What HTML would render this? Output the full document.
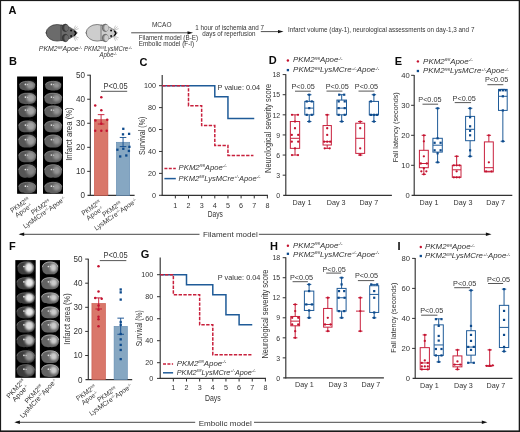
<!DOCTYPE html>
<html><head><meta charset="utf-8"><title>Figure</title>
<style>
html,body{margin:0;padding:0;background:#fff;}
body{width:520px;height:432px;overflow:hidden;}
svg{display:block;font-family:"Liberation Sans",sans-serif;will-change:transform;}
</style></head>
<body>
<svg width="520" height="432" viewBox="0 0 520 432">
<defs>
<filter id="soft" x="-5%" y="-5%" width="110%" height="110%"><feGaussianBlur stdDeviation="0.35"/></filter>
<filter id="blur1" x="-50%" y="-50%" width="200%" height="200%"><feGaussianBlur stdDeviation="0.85"/></filter>
</defs>
<rect x="0" y="0" width="520" height="432" fill="#ffffff"/>
<text x="8.40" y="14.20" font-size="11.0" font-weight="bold" fill="#0a0a0a">A</text>
<g transform="translate(0,0)"><ellipse cx="46.6" cy="32.8" rx="0.9" ry="1.3" fill="#2a2a2a"/><ellipse cx="57.2" cy="32.8" rx="11.0" ry="8.3" fill="#6b6b6b" stroke="#2a2a2a" stroke-width="0.65"/><path d="M61 25.2 C66 24.6 72 28.2 76.6 32.0 Q77.6 32.9 76.6 33.8 C72 37.6 66 41.2 61 40.6 Z" fill="#6b6b6b" stroke="#2a2a2a" stroke-width="0.65"/><ellipse cx="65.3" cy="27.8" rx="3.0" ry="3.7" fill="#3e3e3e" stroke="#2a2a2a" stroke-width="0.6"/><ellipse cx="66.4" cy="27.8" rx="2.1" ry="3.1" fill="#6b6b6b"/><ellipse cx="65.3" cy="38.0" rx="3.0" ry="3.7" fill="#3e3e3e" stroke="#2a2a2a" stroke-width="0.6"/><ellipse cx="66.4" cy="38.0" rx="2.1" ry="3.1" fill="#6b6b6b"/><circle cx="71.1" cy="30.6" r="1.0" fill="#111"/><circle cx="71.1" cy="35.9" r="1.0" fill="#111"/><path d="M74.2 30.6 Q78.6 33.2 74.2 36.4 L75.0 33.2 Z" fill="#0a0a0a"/><path d="M74.0 30.9 Q77.2 33.2 74.0 35.9" fill="none" stroke="#0a0a0a" stroke-width="1.1"/><line x1="73.6" y1="30.2" x2="77.6" y2="26.6" stroke="#808080" stroke-width="0.45"/><line x1="73.8" y1="30.4" x2="78.6" y2="28.6" stroke="#808080" stroke-width="0.45"/><line x1="73.4" y1="30.0" x2="75.6" y2="25.6" stroke="#808080" stroke-width="0.45"/><line x1="73.6" y1="36.2" x2="77.6" y2="39.8" stroke="#808080" stroke-width="0.45"/><line x1="73.8" y1="36.0" x2="78.6" y2="37.8" stroke="#808080" stroke-width="0.45"/><line x1="73.4" y1="36.4" x2="75.6" y2="40.8" stroke="#808080" stroke-width="0.45"/></g>
<g transform="translate(40,0)"><ellipse cx="46.6" cy="32.8" rx="0.9" ry="1.3" fill="#4a4a4a"/><ellipse cx="57.2" cy="32.8" rx="11.0" ry="8.3" fill="#cdcdcd" stroke="#4a4a4a" stroke-width="0.65"/><path d="M61 25.2 C66 24.6 72 28.2 76.6 32.0 Q77.6 32.9 76.6 33.8 C72 37.6 66 41.2 61 40.6 Z" fill="#cdcdcd" stroke="#4a4a4a" stroke-width="0.65"/><ellipse cx="65.3" cy="27.8" rx="3.0" ry="3.7" fill="#8a8a8a" stroke="#4a4a4a" stroke-width="0.6"/><ellipse cx="66.4" cy="27.8" rx="2.1" ry="3.1" fill="#cdcdcd"/><ellipse cx="65.3" cy="38.0" rx="3.0" ry="3.7" fill="#8a8a8a" stroke="#4a4a4a" stroke-width="0.6"/><ellipse cx="66.4" cy="38.0" rx="2.1" ry="3.1" fill="#cdcdcd"/><circle cx="71.1" cy="30.6" r="1.0" fill="#111"/><circle cx="71.1" cy="35.9" r="1.0" fill="#111"/><path d="M74.2 30.6 Q78.6 33.2 74.2 36.4 L75.0 33.2 Z" fill="#0a0a0a"/><path d="M74.0 30.9 Q77.2 33.2 74.0 35.9" fill="none" stroke="#0a0a0a" stroke-width="1.1"/><line x1="73.6" y1="30.2" x2="77.6" y2="26.6" stroke="#808080" stroke-width="0.45"/><line x1="73.8" y1="30.4" x2="78.6" y2="28.6" stroke="#808080" stroke-width="0.45"/><line x1="73.4" y1="30.0" x2="75.6" y2="25.6" stroke="#808080" stroke-width="0.45"/><line x1="73.6" y1="36.2" x2="77.6" y2="39.8" stroke="#808080" stroke-width="0.45"/><line x1="73.8" y1="36.0" x2="78.6" y2="37.8" stroke="#808080" stroke-width="0.45"/><line x1="73.4" y1="36.4" x2="75.6" y2="40.8" stroke="#808080" stroke-width="0.45"/></g>
<text x="38.80" y="50.90" font-size="6.4" font-style="italic" textLength="43.30" lengthAdjust="spacingAndGlyphs" fill="#333333"><tspan>PKM2</tspan><tspan font-size="3.39" dy="-2.18">fl/fl</tspan><tspan dy="2.18">Apoe</tspan><tspan font-size="3.39" dy="-2.18">-/-</tspan></text>
<text x="84.00" y="50.90" font-size="6.4" font-style="italic" textLength="48.00" lengthAdjust="spacingAndGlyphs" fill="#333333"><tspan>PKM2</tspan><tspan font-size="3.39" dy="-2.18">fl/fl</tspan><tspan dy="2.18">LysMCre</tspan><tspan font-size="3.39" dy="-2.18">+/-</tspan></text>
<text x="99.40" y="57.00" font-size="6.4" font-style="italic" textLength="17.30" lengthAdjust="spacingAndGlyphs" fill="#333333"><tspan>Apoe</tspan><tspan font-size="3.39" dy="-2.18">-/-</tspan></text>
<text x="151.90" y="26.60" font-size="6.4" textLength="19.60" lengthAdjust="spacingAndGlyphs" fill="#333333">MCAO</text>
<line x1="131.20" y1="32.80" x2="188.50" y2="32.80" stroke="#222" stroke-width="0.8"/>
<path d="M187.5 31.2 L193 32.8 L187.5 34.4 Z" fill="#111"/>
<text x="138.80" y="40.00" font-size="6.3" textLength="59.20" lengthAdjust="spacingAndGlyphs" fill="#333333">Filament model (B-E)</text>
<text x="138.80" y="45.80" font-size="6.3" textLength="55.40" lengthAdjust="spacingAndGlyphs" fill="#333333">Embolic model (F-I)</text>
<text x="195.30" y="29.80" font-size="6.3" textLength="68.70" lengthAdjust="spacingAndGlyphs" fill="#333333">1 hour of ischemia and 7</text>
<text x="202.30" y="35.80" font-size="6.3" textLength="53.20" lengthAdjust="spacingAndGlyphs" fill="#333333">days of reperfusion</text>
<line x1="260.80" y1="31.60" x2="279.00" y2="31.60" stroke="#222" stroke-width="0.8"/>
<path d="M278 30.0 L283.5 31.6 L278 33.2 Z" fill="#111"/>
<text x="288.00" y="32.00" font-size="6.3" textLength="186.40" lengthAdjust="spacingAndGlyphs" fill="#333333">Infarct volume (day-1), neurological assessments on day-1,3 and 7</text>
<text x="8.90" y="65.40" font-size="11.0" font-weight="bold" fill="#0a0a0a">B</text>
<text x="9.10" y="249.80" font-size="11.0" font-weight="bold" fill="#0a0a0a">F</text>
<g filter="url(#soft)">
<rect x="17.1" y="76.5" width="19.9" height="117.3" fill="#050505"/>
<path d="M19.3 85.3 C19.3 79.8 35.2 79.8 35.2 85.3 C35.2 90.0 31.2 90.7 27.2 90.4 C23.3 90.7 19.3 90.0 19.3 85.3 Z" fill="#555555"/>
<ellipse cx="30.4" cy="85.3" rx="4.0" ry="3.6" fill="#b4b4b4" opacity="0.68" filter="url(#blur1)"/>
<circle cx="25.4" cy="84.4" r="0.85" fill="#e0e0e0"/>
<circle cx="27.6" cy="84.6" r="0.65" fill="#cccccc"/>
<path d="M19.6 85.0 C19.6 80.1 34.9 80.1 34.9 85.0" fill="none" stroke="#8c8c8c" stroke-width="0.7" opacity="0.9"/>
<path d="M18.5 98.0 C18.5 91.4 36.0 91.4 36.0 98.0 C36.0 103.5 31.6 104.3 27.2 104.1 C22.9 104.3 18.5 103.5 18.5 98.0 Z" fill="#555555"/>
<ellipse cx="30.8" cy="98.0" rx="4.4" ry="4.3" fill="#b4b4b4" opacity="0.85" filter="url(#blur1)"/>
<circle cx="25.4" cy="97.1" r="0.85" fill="#e0e0e0"/>
<circle cx="27.6" cy="97.3" r="0.65" fill="#cccccc"/>
<path d="M18.8 97.7 C18.8 91.7 35.7 91.7 35.7 97.7" fill="none" stroke="#8c8c8c" stroke-width="0.7" opacity="0.9"/>
<path d="M18.5 110.9 C18.5 103.9 36.0 103.9 36.0 110.9 C36.0 116.7 31.6 117.5 27.2 117.2 C22.9 117.5 18.5 116.7 18.5 110.9 Z" fill="#555555"/>
<ellipse cx="30.8" cy="110.9" rx="4.4" ry="4.5" fill="#b4b4b4" opacity="0.85" filter="url(#blur1)"/>
<circle cx="25.4" cy="110.0" r="0.85" fill="#e0e0e0"/>
<circle cx="27.6" cy="110.2" r="0.65" fill="#cccccc"/>
<path d="M18.8 110.6 C18.8 104.3 35.7 104.3 35.7 110.6" fill="none" stroke="#8c8c8c" stroke-width="0.7" opacity="0.9"/>
<path d="M18.5 126.0 C18.5 119.0 36.0 119.0 36.0 126.0 C36.0 131.8 31.6 132.6 27.2 132.3 C22.9 132.6 18.5 131.8 18.5 126.0 Z" fill="#555555"/>
<ellipse cx="30.8" cy="126.0" rx="4.4" ry="4.5" fill="#b4b4b4" opacity="0.85" filter="url(#blur1)"/>
<circle cx="25.4" cy="125.1" r="0.85" fill="#e0e0e0"/>
<circle cx="27.6" cy="125.3" r="0.65" fill="#cccccc"/>
<path d="M18.8 125.7 C18.8 119.4 35.7 119.4 35.7 125.7" fill="none" stroke="#8c8c8c" stroke-width="0.7" opacity="0.9"/>
<path d="M18.5 140.5 C18.5 132.9 36.0 132.9 36.0 140.5 C36.0 146.8 31.6 147.7 27.2 147.4 C22.9 147.7 18.5 146.8 18.5 140.5 Z" fill="#555555"/>
<ellipse cx="30.8" cy="140.5" rx="4.4" ry="4.9" fill="#b4b4b4" opacity="0.77" filter="url(#blur1)"/>
<circle cx="25.4" cy="139.6" r="0.85" fill="#e0e0e0"/>
<circle cx="27.6" cy="139.8" r="0.65" fill="#cccccc"/>
<path d="M18.8 140.2 C18.8 133.3 35.7 133.3 35.7 140.2" fill="none" stroke="#8c8c8c" stroke-width="0.7" opacity="0.9"/>
<path d="M18.5 155.9 C18.5 148.9 36.0 148.9 36.0 155.9 C36.0 161.7 31.6 162.5 27.2 162.2 C22.9 162.5 18.5 161.7 18.5 155.9 Z" fill="#555555"/>
<ellipse cx="30.8" cy="155.9" rx="4.4" ry="4.5" fill="#b4b4b4" opacity="0.68" filter="url(#blur1)"/>
<circle cx="25.4" cy="155.0" r="0.85" fill="#e0e0e0"/>
<circle cx="27.6" cy="155.2" r="0.65" fill="#cccccc"/>
<path d="M18.8 155.6 C18.8 149.3 35.7 149.3 35.7 155.6" fill="none" stroke="#8c8c8c" stroke-width="0.7" opacity="0.9"/>
<path d="M18.5 170.4 C18.5 162.4 36.0 162.4 36.0 170.4 C36.0 176.9 31.6 177.9 27.2 177.6 C22.9 177.9 18.5 176.9 18.5 170.4 Z" fill="#555555"/>
<ellipse cx="30.8" cy="170.4" rx="4.4" ry="5.1" fill="#b4b4b4" opacity="0.51" filter="url(#blur1)"/>
<circle cx="25.4" cy="169.5" r="0.85" fill="#e0e0e0"/>
<circle cx="27.6" cy="169.7" r="0.65" fill="#cccccc"/>
<path d="M18.8 170.1 C18.8 162.9 35.7 162.9 35.7 170.1" fill="none" stroke="#8c8c8c" stroke-width="0.7" opacity="0.9"/>
<path d="M18.5 187.1 C18.5 180.5 36.0 180.5 36.0 187.1 C36.0 192.7 31.6 193.4 27.2 193.2 C22.9 193.4 18.5 192.7 18.5 187.1 Z" fill="#555555"/>
<ellipse cx="30.8" cy="187.1" rx="4.4" ry="4.3" fill="#b4b4b4" opacity="0.42" filter="url(#blur1)"/>
<circle cx="25.4" cy="186.2" r="0.85" fill="#e0e0e0"/>
<circle cx="27.6" cy="186.4" r="0.65" fill="#cccccc"/>
<path d="M18.8 186.8 C18.8 180.8 35.7 180.8 35.7 186.8" fill="none" stroke="#8c8c8c" stroke-width="0.7" opacity="0.9"/>
<rect x="43.0" y="76.5" width="20.0" height="117.3" fill="#050505"/>
<path d="M45.2 85.3 C45.2 79.8 61.2 79.8 61.2 85.3 C61.2 90.0 57.2 90.7 53.2 90.4 C49.2 90.7 45.2 90.0 45.2 85.3 Z" fill="#5e5e5e"/>
<ellipse cx="56.4" cy="85.3" rx="3.3" ry="2.9" fill="#a4a4a4" opacity="0.80" filter="url(#blur1)"/>
<circle cx="51.4" cy="84.4" r="0.85" fill="#e0e0e0"/>
<circle cx="53.6" cy="84.6" r="0.65" fill="#cccccc"/>
<path d="M45.5 85.0 C45.5 80.1 60.9 80.1 60.9 85.0" fill="none" stroke="#999999" stroke-width="0.7" opacity="0.9"/>
<path d="M44.4 98.0 C44.4 91.4 62.0 91.4 62.0 98.0 C62.0 103.5 57.6 104.3 53.2 104.1 C48.8 104.3 44.4 103.5 44.4 98.0 Z" fill="#5e5e5e"/>
<ellipse cx="56.7" cy="98.0" rx="3.6" ry="3.5" fill="#a4a4a4" opacity="0.80" filter="url(#blur1)"/>
<circle cx="51.4" cy="97.1" r="0.85" fill="#e0e0e0"/>
<circle cx="53.6" cy="97.3" r="0.65" fill="#cccccc"/>
<path d="M44.7 97.7 C44.7 91.7 61.7 91.7 61.7 97.7" fill="none" stroke="#999999" stroke-width="0.7" opacity="0.9"/>
<path d="M44.4 110.9 C44.4 103.9 62.0 103.9 62.0 110.9 C62.0 116.7 57.6 117.5 53.2 117.2 C48.8 117.5 44.4 116.7 44.4 110.9 Z" fill="#5e5e5e"/>
<ellipse cx="56.7" cy="110.9" rx="3.6" ry="3.6" fill="#a4a4a4" opacity="0.80" filter="url(#blur1)"/>
<circle cx="51.4" cy="110.0" r="0.85" fill="#e0e0e0"/>
<circle cx="53.6" cy="110.2" r="0.65" fill="#cccccc"/>
<path d="M44.7 110.6 C44.7 104.3 61.7 104.3 61.7 110.6" fill="none" stroke="#999999" stroke-width="0.7" opacity="0.9"/>
<path d="M44.4 126.0 C44.4 119.0 62.0 119.0 62.0 126.0 C62.0 131.8 57.6 132.6 53.2 132.3 C48.8 132.6 44.4 131.8 44.4 126.0 Z" fill="#5e5e5e"/>
<ellipse cx="56.7" cy="126.0" rx="3.6" ry="3.6" fill="#a4a4a4" opacity="0.80" filter="url(#blur1)"/>
<circle cx="51.4" cy="125.1" r="0.85" fill="#e0e0e0"/>
<circle cx="53.6" cy="125.3" r="0.65" fill="#cccccc"/>
<path d="M44.7 125.7 C44.7 119.4 61.7 119.4 61.7 125.7" fill="none" stroke="#999999" stroke-width="0.7" opacity="0.9"/>
<path d="M44.4 140.5 C44.4 132.9 62.0 132.9 62.0 140.5 C62.0 146.8 57.6 147.7 53.2 147.4 C48.8 147.7 44.4 146.8 44.4 140.5 Z" fill="#5e5e5e"/>
<ellipse cx="56.7" cy="140.5" rx="3.6" ry="4.0" fill="#a4a4a4" opacity="0.80" filter="url(#blur1)"/>
<circle cx="51.4" cy="139.6" r="0.85" fill="#e0e0e0"/>
<circle cx="53.6" cy="139.8" r="0.65" fill="#cccccc"/>
<path d="M44.7 140.2 C44.7 133.3 61.7 133.3 61.7 140.2" fill="none" stroke="#999999" stroke-width="0.7" opacity="0.9"/>
<path d="M44.4 155.9 C44.4 148.9 62.0 148.9 62.0 155.9 C62.0 161.7 57.6 162.5 53.2 162.2 C48.8 162.5 44.4 161.7 44.4 155.9 Z" fill="#5e5e5e"/>
<ellipse cx="56.7" cy="155.9" rx="3.6" ry="3.6" fill="#a4a4a4" opacity="0.80" filter="url(#blur1)"/>
<circle cx="51.4" cy="155.0" r="0.85" fill="#e0e0e0"/>
<circle cx="53.6" cy="155.2" r="0.65" fill="#cccccc"/>
<path d="M44.7 155.6 C44.7 149.3 61.7 149.3 61.7 155.6" fill="none" stroke="#999999" stroke-width="0.7" opacity="0.9"/>
<path d="M44.4 170.4 C44.4 162.4 62.0 162.4 62.0 170.4 C62.0 176.9 57.6 177.9 53.2 177.6 C48.8 177.9 44.4 176.9 44.4 170.4 Z" fill="#5e5e5e"/>
<ellipse cx="56.7" cy="170.4" rx="3.6" ry="4.1" fill="#a4a4a4" opacity="0.80" filter="url(#blur1)"/>
<circle cx="51.4" cy="169.5" r="0.85" fill="#e0e0e0"/>
<circle cx="53.6" cy="169.7" r="0.65" fill="#cccccc"/>
<path d="M44.7 170.1 C44.7 162.9 61.7 162.9 61.7 170.1" fill="none" stroke="#999999" stroke-width="0.7" opacity="0.9"/>
<path d="M44.4 187.1 C44.4 180.5 62.0 180.5 62.0 187.1 C62.0 192.7 57.6 193.4 53.2 193.2 C48.8 193.4 44.4 192.7 44.4 187.1 Z" fill="#5e5e5e"/>
<ellipse cx="56.7" cy="187.1" rx="3.6" ry="3.5" fill="#a4a4a4" opacity="0.80" filter="url(#blur1)"/>
<circle cx="51.4" cy="186.2" r="0.85" fill="#e0e0e0"/>
<circle cx="53.6" cy="186.4" r="0.65" fill="#cccccc"/>
<path d="M44.7 186.8 C44.7 180.8 61.7 180.8 61.7 186.8" fill="none" stroke="#999999" stroke-width="0.7" opacity="0.9"/>
<rect x="15.3" y="260.1" width="20.4" height="117.7" fill="#050505"/>
<path d="M17.5 267.4 C17.5 259.8 33.9 259.8 33.9 267.4 C33.9 273.7 29.8 274.6 25.7 274.3 C21.6 274.6 17.5 273.7 17.5 267.4 Z" fill="#3c3c3c"/>
<ellipse cx="29.0" cy="267.4" rx="4.1" ry="4.9" fill="#ececec" opacity="1.00" filter="url(#blur1)"/>
<circle cx="23.9" cy="266.5" r="0.85" fill="#e0e0e0"/>
<circle cx="26.1" cy="266.7" r="0.65" fill="#cccccc"/>
<path d="M17.8 267.1 C17.8 260.2 33.6 260.2 33.6 267.1" fill="none" stroke="#777777" stroke-width="0.7" opacity="0.9"/>
<path d="M16.7 282.7 C16.7 275.6 34.7 275.6 34.7 282.7 C34.7 288.6 30.2 289.4 25.7 289.2 C21.2 289.4 16.7 288.6 16.7 282.7 Z" fill="#3c3c3c"/>
<ellipse cx="29.3" cy="282.7" rx="4.5" ry="4.6" fill="#ececec" opacity="1.00" filter="url(#blur1)"/>
<circle cx="23.9" cy="281.8" r="0.85" fill="#e0e0e0"/>
<circle cx="26.1" cy="282.0" r="0.65" fill="#cccccc"/>
<path d="M17.0 282.4 C17.0 276.0 34.4 276.0 34.4 282.4" fill="none" stroke="#777777" stroke-width="0.7" opacity="0.9"/>
<path d="M16.7 297.6 C16.7 291.0 34.7 291.0 34.7 297.6 C34.7 303.1 30.2 303.9 25.7 303.7 C21.2 303.9 16.7 303.1 16.7 297.6 Z" fill="#3c3c3c"/>
<ellipse cx="29.3" cy="297.6" rx="4.5" ry="4.3" fill="#ececec" opacity="1.00" filter="url(#blur1)"/>
<circle cx="23.9" cy="296.7" r="0.85" fill="#e0e0e0"/>
<circle cx="26.1" cy="296.9" r="0.65" fill="#cccccc"/>
<path d="M17.0 297.3 C17.0 291.3 34.4 291.3 34.4 297.3" fill="none" stroke="#777777" stroke-width="0.7" opacity="0.9"/>
<path d="M16.7 311.9 C16.7 304.9 34.7 304.9 34.7 311.9 C34.7 317.7 30.2 318.5 25.7 318.2 C21.2 318.5 16.7 317.7 16.7 311.9 Z" fill="#3c3c3c"/>
<ellipse cx="29.3" cy="311.9" rx="4.5" ry="4.5" fill="#ececec" opacity="1.00" filter="url(#blur1)"/>
<circle cx="23.9" cy="311.0" r="0.85" fill="#e0e0e0"/>
<circle cx="26.1" cy="311.2" r="0.65" fill="#cccccc"/>
<path d="M17.0 311.6 C17.0 305.3 34.4 305.3 34.4 311.6" fill="none" stroke="#777777" stroke-width="0.7" opacity="0.9"/>
<path d="M16.7 325.7 C16.7 318.2 34.7 318.2 34.7 325.7 C34.7 331.9 30.2 332.8 25.7 332.5 C21.2 332.8 16.7 331.9 16.7 325.7 Z" fill="#3c3c3c"/>
<ellipse cx="29.3" cy="325.7" rx="4.5" ry="4.8" fill="#ececec" opacity="0.90" filter="url(#blur1)"/>
<circle cx="23.9" cy="324.8" r="0.85" fill="#e0e0e0"/>
<circle cx="26.1" cy="325.0" r="0.65" fill="#cccccc"/>
<path d="M17.0 325.4 C17.0 318.6 34.4 318.6 34.4 325.4" fill="none" stroke="#777777" stroke-width="0.7" opacity="0.9"/>
<path d="M16.7 340.3 C16.7 332.8 34.7 332.8 34.7 340.3 C34.7 346.5 30.2 347.4 25.7 347.1 C21.2 347.4 16.7 346.5 16.7 340.3 Z" fill="#3c3c3c"/>
<ellipse cx="29.3" cy="340.3" rx="4.5" ry="4.8" fill="#ececec" opacity="0.75" filter="url(#blur1)"/>
<circle cx="23.9" cy="339.4" r="0.85" fill="#e0e0e0"/>
<circle cx="26.1" cy="339.6" r="0.65" fill="#cccccc"/>
<path d="M17.0 340.0 C17.0 333.2 34.4 333.2 34.4 340.0" fill="none" stroke="#777777" stroke-width="0.7" opacity="0.9"/>
<path d="M16.7 356.2 C16.7 348.7 34.7 348.7 34.7 356.2 C34.7 362.4 30.2 363.3 25.7 363.0 C21.2 363.3 16.7 362.4 16.7 356.2 Z" fill="#3c3c3c"/>
<ellipse cx="29.3" cy="356.2" rx="4.5" ry="4.8" fill="#ececec" opacity="0.50" filter="url(#blur1)"/>
<circle cx="23.9" cy="355.3" r="0.85" fill="#e0e0e0"/>
<circle cx="26.1" cy="355.5" r="0.65" fill="#cccccc"/>
<path d="M17.0 355.9 C17.0 349.1 34.4 349.1 34.4 355.9" fill="none" stroke="#777777" stroke-width="0.7" opacity="0.9"/>
<path d="M16.7 370.1 C16.7 362.6 34.7 362.6 34.7 370.1 C34.7 376.3 30.2 377.2 25.7 376.9 C21.2 377.2 16.7 376.3 16.7 370.1 Z" fill="#3c3c3c"/>
<ellipse cx="29.3" cy="370.1" rx="4.5" ry="4.8" fill="#ececec" opacity="0.40" filter="url(#blur1)"/>
<circle cx="23.9" cy="369.2" r="0.85" fill="#e0e0e0"/>
<circle cx="26.1" cy="369.4" r="0.65" fill="#cccccc"/>
<path d="M17.0 369.8 C17.0 363.0 34.4 363.0 34.4 369.8" fill="none" stroke="#777777" stroke-width="0.7" opacity="0.9"/>
<rect x="39.9" y="260.1" width="20.1" height="117.7" fill="#050505"/>
<path d="M42.1 267.4 C42.1 259.8 58.2 259.8 58.2 267.4 C58.2 273.7 54.2 274.6 50.2 274.3 C46.1 274.6 42.1 273.7 42.1 267.4 Z" fill="#646464"/>
<ellipse cx="53.4" cy="267.4" rx="3.3" ry="4.0" fill="#d8d8d8" opacity="0.90" filter="url(#blur1)"/>
<circle cx="48.4" cy="266.5" r="0.85" fill="#e0e0e0"/>
<circle cx="50.6" cy="266.7" r="0.65" fill="#cccccc"/>
<path d="M42.4 267.1 C42.4 260.2 57.9 260.2 57.9 267.1" fill="none" stroke="#cfcfcf" stroke-width="0.7" opacity="0.9"/>
<path d="M41.3 282.7 C41.3 275.6 59.0 275.6 59.0 282.7 C59.0 288.6 54.6 289.4 50.2 289.2 C45.7 289.4 41.3 288.6 41.3 282.7 Z" fill="#646464"/>
<ellipse cx="53.7" cy="282.7" rx="3.6" ry="3.7" fill="#d8d8d8" opacity="0.90" filter="url(#blur1)"/>
<circle cx="48.4" cy="281.8" r="0.85" fill="#e0e0e0"/>
<circle cx="50.6" cy="282.0" r="0.65" fill="#cccccc"/>
<path d="M41.6 282.4 C41.6 276.0 58.7 276.0 58.7 282.4" fill="none" stroke="#cfcfcf" stroke-width="0.7" opacity="0.9"/>
<path d="M41.3 297.6 C41.3 291.0 59.0 291.0 59.0 297.6 C59.0 303.1 54.6 303.9 50.2 303.7 C45.7 303.9 41.3 303.1 41.3 297.6 Z" fill="#646464"/>
<ellipse cx="53.7" cy="297.6" rx="3.6" ry="3.5" fill="#d8d8d8" opacity="0.90" filter="url(#blur1)"/>
<circle cx="48.4" cy="296.7" r="0.85" fill="#e0e0e0"/>
<circle cx="50.6" cy="296.9" r="0.65" fill="#cccccc"/>
<path d="M41.6 297.3 C41.6 291.3 58.7 291.3 58.7 297.3" fill="none" stroke="#cfcfcf" stroke-width="0.7" opacity="0.9"/>
<path d="M41.3 311.9 C41.3 304.9 59.0 304.9 59.0 311.9 C59.0 317.7 54.6 318.5 50.2 318.2 C45.7 318.5 41.3 317.7 41.3 311.9 Z" fill="#646464"/>
<ellipse cx="53.7" cy="311.9" rx="3.6" ry="3.6" fill="#d8d8d8" opacity="0.90" filter="url(#blur1)"/>
<circle cx="48.4" cy="311.0" r="0.85" fill="#e0e0e0"/>
<circle cx="50.6" cy="311.2" r="0.65" fill="#cccccc"/>
<path d="M41.6 311.6 C41.6 305.3 58.7 305.3 58.7 311.6" fill="none" stroke="#cfcfcf" stroke-width="0.7" opacity="0.9"/>
<path d="M41.3 325.7 C41.3 318.2 59.0 318.2 59.0 325.7 C59.0 331.9 54.6 332.8 50.2 332.5 C45.7 332.8 41.3 331.9 41.3 325.7 Z" fill="#646464"/>
<ellipse cx="53.7" cy="325.7" rx="3.6" ry="3.9" fill="#d8d8d8" opacity="0.90" filter="url(#blur1)"/>
<circle cx="48.4" cy="324.8" r="0.85" fill="#e0e0e0"/>
<circle cx="50.6" cy="325.0" r="0.65" fill="#cccccc"/>
<path d="M41.6 325.4 C41.6 318.6 58.7 318.6 58.7 325.4" fill="none" stroke="#cfcfcf" stroke-width="0.7" opacity="0.9"/>
<path d="M41.3 340.3 C41.3 332.8 59.0 332.8 59.0 340.3 C59.0 346.5 54.6 347.4 50.2 347.1 C45.7 347.4 41.3 346.5 41.3 340.3 Z" fill="#646464"/>
<ellipse cx="53.7" cy="340.3" rx="3.6" ry="3.9" fill="#d8d8d8" opacity="0.90" filter="url(#blur1)"/>
<circle cx="48.4" cy="339.4" r="0.85" fill="#e0e0e0"/>
<circle cx="50.6" cy="339.6" r="0.65" fill="#cccccc"/>
<path d="M41.6 340.0 C41.6 333.2 58.7 333.2 58.7 340.0" fill="none" stroke="#cfcfcf" stroke-width="0.7" opacity="0.9"/>
<path d="M41.3 356.2 C41.3 348.7 59.0 348.7 59.0 356.2 C59.0 362.4 54.6 363.3 50.2 363.0 C45.7 363.3 41.3 362.4 41.3 356.2 Z" fill="#646464"/>
<ellipse cx="53.7" cy="356.2" rx="3.6" ry="3.9" fill="#d8d8d8" opacity="0.90" filter="url(#blur1)"/>
<circle cx="48.4" cy="355.3" r="0.85" fill="#e0e0e0"/>
<circle cx="50.6" cy="355.5" r="0.65" fill="#cccccc"/>
<path d="M41.6 355.9 C41.6 349.1 58.7 349.1 58.7 355.9" fill="none" stroke="#cfcfcf" stroke-width="0.7" opacity="0.9"/>
<path d="M41.3 370.1 C41.3 362.6 59.0 362.6 59.0 370.1 C59.0 376.3 54.6 377.2 50.2 376.9 C45.7 377.2 41.3 376.3 41.3 370.1 Z" fill="#646464"/>
<ellipse cx="53.7" cy="370.1" rx="3.6" ry="3.9" fill="#d8d8d8" opacity="0.90" filter="url(#blur1)"/>
<circle cx="48.4" cy="369.2" r="0.85" fill="#e0e0e0"/>
<circle cx="50.6" cy="369.4" r="0.65" fill="#cccccc"/>
<path d="M41.6 369.8 C41.6 363.0 58.7 363.0 58.7 369.8" fill="none" stroke="#cfcfcf" stroke-width="0.7" opacity="0.9"/>
</g>
<g transform="translate(21.6,207.6) rotate(-35)">
<text x="0.00" y="-0.92" font-size="6.8" text-anchor="middle" textLength="21.50" lengthAdjust="spacingAndGlyphs" fill="#333333"><tspan>PKM2</tspan><tspan font-size="3.60" dy="-2.31">fl/fl</tspan></text>
<text x="0.00" y="5.68" font-size="6.8" text-anchor="middle" textLength="19.50" lengthAdjust="spacingAndGlyphs" fill="#333333"><tspan>Apoe</tspan><tspan font-size="3.60" dy="-2.31">-/-</tspan></text>
</g>
<g transform="translate(42.3,209.7) rotate(-35)">
<text x="0.00" y="-0.92" font-size="6.8" text-anchor="middle" textLength="21.50" lengthAdjust="spacingAndGlyphs" fill="#333333"><tspan>PKM2</tspan><tspan font-size="3.60" dy="-2.31">fl/fl</tspan></text>
<text x="0.00" y="5.68" font-size="6.8" text-anchor="middle" textLength="50.50" lengthAdjust="spacingAndGlyphs" fill="#333333"><tspan>LysMCre</tspan><tspan font-size="3.60" dy="-2.31">+/-</tspan><tspan dy="2.31">Apoe</tspan><tspan font-size="3.60" dy="-2.31">-/-</tspan></text>
</g>
<g transform="translate(92.9,210.4) rotate(-35)">
<text x="0.00" y="-0.92" font-size="6.8" text-anchor="middle" textLength="21.50" lengthAdjust="spacingAndGlyphs" fill="#333333"><tspan>PKM2</tspan><tspan font-size="3.60" dy="-2.31">fl/fl</tspan></text>
<text x="0.00" y="5.68" font-size="6.8" text-anchor="middle" textLength="19.50" lengthAdjust="spacingAndGlyphs" fill="#333333"><tspan>Apoe</tspan><tspan font-size="3.60" dy="-2.31">-/-</tspan></text>
</g>
<g transform="translate(113.6,211.6) rotate(-35)">
<text x="0.00" y="-0.92" font-size="6.8" text-anchor="middle" textLength="21.50" lengthAdjust="spacingAndGlyphs" fill="#333333"><tspan>PKM2</tspan><tspan font-size="3.60" dy="-2.31">fl/fl</tspan></text>
<text x="0.00" y="5.68" font-size="6.8" text-anchor="middle" textLength="50.50" lengthAdjust="spacingAndGlyphs" fill="#333333"><tspan>LysMCre</tspan><tspan font-size="3.60" dy="-2.31">+/-</tspan><tspan dy="2.31">Apoe</tspan><tspan font-size="3.60" dy="-2.31">-/-</tspan></text>
</g>
<g transform="translate(18.0,390.8) rotate(-47)">
<text x="0.00" y="-0.92" font-size="6.8" text-anchor="middle" textLength="23.50" lengthAdjust="spacingAndGlyphs" fill="#333333"><tspan>PKM2</tspan><tspan font-size="3.60" dy="-2.31">fl/fl</tspan></text>
<text x="0.00" y="5.68" font-size="6.8" text-anchor="middle" textLength="21.00" lengthAdjust="spacingAndGlyphs" fill="#333333"><tspan>Apoe</tspan><tspan font-size="3.60" dy="-2.31">-/-</tspan></text>
</g>
<g transform="translate(35.9,396.0) rotate(-47)">
<text x="0.00" y="-0.92" font-size="6.8" text-anchor="middle" textLength="23.00" lengthAdjust="spacingAndGlyphs" fill="#333333"><tspan>PKM2</tspan><tspan font-size="3.60" dy="-2.31">fl/fl</tspan></text>
<text x="0.00" y="5.68" font-size="6.8" text-anchor="middle" textLength="50.90" lengthAdjust="spacingAndGlyphs" fill="#333333"><tspan>LysMCre</tspan><tspan font-size="3.60" dy="-2.31">+/-</tspan><tspan dy="2.31">Apoe</tspan><tspan font-size="3.60" dy="-2.31">-/-</tspan></text>
</g>
<g transform="translate(87.8,395.2) rotate(-35)">
<text x="0.00" y="-0.92" font-size="6.8" text-anchor="middle" textLength="22.50" lengthAdjust="spacingAndGlyphs" fill="#333333"><tspan>PKM2</tspan><tspan font-size="3.60" dy="-2.31">fl/fl</tspan></text>
<text x="0.00" y="5.68" font-size="6.8" text-anchor="middle" textLength="18.50" lengthAdjust="spacingAndGlyphs" fill="#333333"><tspan>Apoe</tspan><tspan font-size="3.60" dy="-2.31">-/-</tspan></text>
</g>
<g transform="translate(108.6,396.9) rotate(-35)">
<text x="0.00" y="-0.92" font-size="6.8" text-anchor="middle" textLength="21.50" lengthAdjust="spacingAndGlyphs" fill="#333333"><tspan>PKM2</tspan><tspan font-size="3.60" dy="-2.31">fl/fl</tspan></text>
<text x="0.00" y="5.68" font-size="6.8" text-anchor="middle" textLength="50.50" lengthAdjust="spacingAndGlyphs" fill="#333333"><tspan>LysMCre</tspan><tspan font-size="3.60" dy="-2.31">+/-</tspan><tspan dy="2.31">Apoe</tspan><tspan font-size="3.60" dy="-2.31">-/-</tspan></text>
</g>
<line x1="90.30" y1="74.80" x2="90.30" y2="195.90" stroke="#333333" stroke-width="1.15"/>
<line x1="87.50" y1="195.40" x2="134.60" y2="195.40" stroke="#333333" stroke-width="1.15"/>
<text x="85.10" y="198.34" font-size="8.2" text-anchor="end" textLength="4.50" lengthAdjust="spacingAndGlyphs" fill="#333333">0</text>
<line x1="87.20" y1="171.36" x2="90.30" y2="171.36" stroke="#333333" stroke-width="1.0"/>
<text x="85.10" y="174.30" font-size="8.2" text-anchor="end" textLength="9.00" lengthAdjust="spacingAndGlyphs" fill="#333333">10</text>
<line x1="87.20" y1="147.32" x2="90.30" y2="147.32" stroke="#333333" stroke-width="1.0"/>
<text x="85.10" y="150.26" font-size="8.2" text-anchor="end" textLength="9.00" lengthAdjust="spacingAndGlyphs" fill="#333333">20</text>
<line x1="87.20" y1="123.28" x2="90.30" y2="123.28" stroke="#333333" stroke-width="1.0"/>
<text x="85.10" y="126.22" font-size="8.2" text-anchor="end" textLength="9.00" lengthAdjust="spacingAndGlyphs" fill="#333333">30</text>
<line x1="87.20" y1="99.24" x2="90.30" y2="99.24" stroke="#333333" stroke-width="1.0"/>
<text x="85.10" y="102.18" font-size="8.2" text-anchor="end" textLength="9.00" lengthAdjust="spacingAndGlyphs" fill="#333333">40</text>
<line x1="87.20" y1="75.20" x2="90.30" y2="75.20" stroke="#333333" stroke-width="1.0"/>
<text x="85.10" y="78.14" font-size="8.2" text-anchor="end" textLength="9.00" lengthAdjust="spacingAndGlyphs" fill="#333333">50</text>
<text transform="translate(72.20,134.05) rotate(-90)" x="0" y="0" font-size="8.2" text-anchor="middle" fill="#333333" textLength="53.50" lengthAdjust="spacingAndGlyphs">Infarct area (%)</text>
<rect x="94.3" y="119.67" width="13.60" height="75.73" fill="#d9776a" stroke="#c9584c" stroke-width="0.6"/>
<line x1="101.10" y1="124.00" x2="101.10" y2="114.63" stroke="#c4122f" stroke-width="0.9"/>
<line x1="97.80" y1="114.63" x2="104.40" y2="114.63" stroke="#c4122f" stroke-width="0.9"/>
<line x1="97.80" y1="124.00" x2="104.40" y2="124.00" stroke="#c4122f" stroke-width="0.9"/>
<circle cx="101.3" cy="97.32" r="1.25" fill="#c4122f"/>
<circle cx="95.2" cy="105.49" r="1.25" fill="#c4122f"/>
<circle cx="101.3" cy="110.30" r="1.25" fill="#c4122f"/>
<circle cx="107.2" cy="119.67" r="1.25" fill="#c4122f"/>
<circle cx="95.4" cy="120.40" r="1.25" fill="#c4122f"/>
<circle cx="101.3" cy="123.76" r="1.25" fill="#c4122f"/>
<circle cx="95.2" cy="130.73" r="1.25" fill="#c4122f"/>
<circle cx="101.3" cy="130.73" r="1.25" fill="#c4122f"/>
<circle cx="106.7" cy="130.73" r="1.25" fill="#c4122f"/>
<rect x="116.4" y="142.27" width="13.30" height="53.13" fill="#86a7c2" stroke="#5f89b0" stroke-width="0.6"/>
<line x1="123.05" y1="146.60" x2="123.05" y2="137.46" stroke="#0d4a8c" stroke-width="0.9"/>
<line x1="119.75" y1="137.46" x2="126.35" y2="137.46" stroke="#0d4a8c" stroke-width="0.9"/>
<line x1="119.75" y1="146.60" x2="126.35" y2="146.60" stroke="#0d4a8c" stroke-width="0.9"/>
<rect x="122.15" y="127.66" width="2.3" height="2.3" fill="#0d4a8c"/>
<rect x="121.85" y="133.19" width="2.3" height="2.3" fill="#0d4a8c"/>
<rect x="127.95" y="132.71" width="2.3" height="2.3" fill="#0d4a8c"/>
<rect x="116.25" y="148.57" width="2.3" height="2.3" fill="#0d4a8c"/>
<rect x="122.15" y="147.61" width="2.3" height="2.3" fill="#0d4a8c"/>
<rect x="128.25" y="145.69" width="2.3" height="2.3" fill="#0d4a8c"/>
<rect x="127.75" y="149.78" width="2.3" height="2.3" fill="#0d4a8c"/>
<rect x="119.05" y="155.31" width="2.3" height="2.3" fill="#0d4a8c"/>
<rect x="125.15" y="154.34" width="2.3" height="2.3" fill="#0d4a8c"/>
<text x="103.50" y="88.70" font-size="8.2" textLength="24.10" lengthAdjust="spacingAndGlyphs" fill="#333333">P&lt;0.05</text>
<line x1="101.00" y1="91.30" x2="127.20" y2="91.30" stroke="#444" stroke-width="0.9"/>
<line x1="88.30" y1="258.70" x2="88.30" y2="380.10" stroke="#333333" stroke-width="1.15"/>
<line x1="85.50" y1="379.60" x2="132.20" y2="379.60" stroke="#333333" stroke-width="1.15"/>
<text x="82.40" y="382.54" font-size="8.2" text-anchor="end" textLength="4.50" lengthAdjust="spacingAndGlyphs" fill="#333333">0</text>
<line x1="85.20" y1="355.50" x2="88.30" y2="355.50" stroke="#333333" stroke-width="1.0"/>
<text x="82.40" y="358.44" font-size="8.2" text-anchor="end" textLength="9.00" lengthAdjust="spacingAndGlyphs" fill="#333333">10</text>
<line x1="85.20" y1="331.40" x2="88.30" y2="331.40" stroke="#333333" stroke-width="1.0"/>
<text x="82.40" y="334.34" font-size="8.2" text-anchor="end" textLength="9.00" lengthAdjust="spacingAndGlyphs" fill="#333333">20</text>
<line x1="85.20" y1="307.30" x2="88.30" y2="307.30" stroke="#333333" stroke-width="1.0"/>
<text x="82.40" y="310.24" font-size="8.2" text-anchor="end" textLength="9.00" lengthAdjust="spacingAndGlyphs" fill="#333333">30</text>
<line x1="85.20" y1="283.20" x2="88.30" y2="283.20" stroke="#333333" stroke-width="1.0"/>
<text x="82.40" y="286.14" font-size="8.2" text-anchor="end" textLength="9.00" lengthAdjust="spacingAndGlyphs" fill="#333333">40</text>
<line x1="85.20" y1="259.10" x2="88.30" y2="259.10" stroke="#333333" stroke-width="1.0"/>
<text x="82.40" y="262.04" font-size="8.2" text-anchor="end" textLength="9.00" lengthAdjust="spacingAndGlyphs" fill="#333333">50</text>
<text transform="translate(70.20,319.00) rotate(-90)" x="0" y="0" font-size="8.2" text-anchor="middle" fill="#333333" textLength="51.40" lengthAdjust="spacingAndGlyphs">Infarct area (%)</text>
<rect x="91.9" y="303.44" width="13.60" height="76.16" fill="#d9776a" stroke="#c9584c" stroke-width="0.6"/>
<line x1="98.70" y1="308.99" x2="98.70" y2="297.90" stroke="#c4122f" stroke-width="0.9"/>
<line x1="95.40" y1="297.90" x2="102.00" y2="297.90" stroke="#c4122f" stroke-width="0.9"/>
<line x1="95.40" y1="308.99" x2="102.00" y2="308.99" stroke="#c4122f" stroke-width="0.9"/>
<circle cx="98.5" cy="266.33" r="1.25" fill="#c4122f"/>
<circle cx="98.5" cy="291.39" r="1.25" fill="#c4122f"/>
<circle cx="95.2" cy="297.90" r="1.25" fill="#c4122f"/>
<circle cx="101.7" cy="298.87" r="1.25" fill="#c4122f"/>
<circle cx="98.5" cy="305.61" r="1.25" fill="#c4122f"/>
<circle cx="98.5" cy="309.71" r="1.25" fill="#c4122f"/>
<circle cx="98.5" cy="316.70" r="1.25" fill="#c4122f"/>
<circle cx="98.5" cy="319.35" r="1.25" fill="#c4122f"/>
<circle cx="98.5" cy="326.34" r="1.25" fill="#c4122f"/>
<rect x="114.1" y="326.34" width="13.20" height="53.26" fill="#86a7c2" stroke="#5f89b0" stroke-width="0.6"/>
<line x1="120.70" y1="334.29" x2="120.70" y2="318.15" stroke="#0d4a8c" stroke-width="0.9"/>
<line x1="117.40" y1="318.15" x2="124.00" y2="318.15" stroke="#0d4a8c" stroke-width="0.9"/>
<line x1="117.40" y1="334.29" x2="124.00" y2="334.29" stroke="#0d4a8c" stroke-width="0.9"/>
<rect x="119.55" y="288.32" width="2.3" height="2.3" fill="#0d4a8c"/>
<rect x="119.55" y="291.21" width="2.3" height="2.3" fill="#0d4a8c"/>
<rect x="119.55" y="298.44" width="2.3" height="2.3" fill="#0d4a8c"/>
<rect x="119.55" y="320.85" width="2.3" height="2.3" fill="#0d4a8c"/>
<rect x="119.55" y="323.74" width="2.3" height="2.3" fill="#0d4a8c"/>
<rect x="119.55" y="332.90" width="2.3" height="2.3" fill="#0d4a8c"/>
<rect x="119.55" y="338.20" width="2.3" height="2.3" fill="#0d4a8c"/>
<rect x="119.55" y="343.75" width="2.3" height="2.3" fill="#0d4a8c"/>
<rect x="119.55" y="348.81" width="2.3" height="2.3" fill="#0d4a8c"/>
<rect x="119.55" y="357.97" width="2.3" height="2.3" fill="#0d4a8c"/>
<text x="103.50" y="258.30" font-size="8.2" textLength="24.10" lengthAdjust="spacingAndGlyphs" fill="#333333">P&lt;0.05</text>
<line x1="99.80" y1="260.60" x2="126.30" y2="260.60" stroke="#444" stroke-width="0.9"/>
<text x="139.50" y="65.60" font-size="11.0" font-weight="bold" fill="#0a0a0a">C</text>
<line x1="162.20" y1="74.90" x2="162.20" y2="195.80" stroke="#333333" stroke-width="1.15"/>
<line x1="161.70" y1="195.30" x2="268.00" y2="195.30" stroke="#333333" stroke-width="1.15"/>
<line x1="159.00" y1="85.70" x2="162.20" y2="85.70" stroke="#333333" stroke-width="1.0"/>
<text x="155.90" y="88.49" font-size="7.8" text-anchor="end" textLength="12.00" lengthAdjust="spacingAndGlyphs" fill="#333333">100</text>
<line x1="159.00" y1="107.62" x2="162.20" y2="107.62" stroke="#333333" stroke-width="1.0"/>
<text x="155.90" y="110.41" font-size="7.8" text-anchor="end" textLength="8.00" lengthAdjust="spacingAndGlyphs" fill="#333333">80</text>
<line x1="159.00" y1="129.54" x2="162.20" y2="129.54" stroke="#333333" stroke-width="1.0"/>
<text x="155.90" y="132.33" font-size="7.8" text-anchor="end" textLength="8.00" lengthAdjust="spacingAndGlyphs" fill="#333333">60</text>
<line x1="159.00" y1="151.46" x2="162.20" y2="151.46" stroke="#333333" stroke-width="1.0"/>
<text x="155.90" y="154.25" font-size="7.8" text-anchor="end" textLength="8.00" lengthAdjust="spacingAndGlyphs" fill="#333333">40</text>
<line x1="159.00" y1="173.38" x2="162.20" y2="173.38" stroke="#333333" stroke-width="1.0"/>
<text x="155.90" y="176.17" font-size="7.8" text-anchor="end" textLength="8.00" lengthAdjust="spacingAndGlyphs" fill="#333333">20</text>
<line x1="159.00" y1="195.30" x2="162.20" y2="195.30" stroke="#333333" stroke-width="1.0"/>
<text x="155.90" y="198.09" font-size="7.8" text-anchor="end" textLength="4.00" lengthAdjust="spacingAndGlyphs" fill="#333333">0</text>
<line x1="175.35" y1="195.30" x2="175.35" y2="198.40" stroke="#333333" stroke-width="1.0"/>
<text x="175.35" y="207.50" font-size="7.8" text-anchor="middle" textLength="4.00" lengthAdjust="spacingAndGlyphs" fill="#333333">1</text>
<line x1="188.50" y1="195.30" x2="188.50" y2="198.40" stroke="#333333" stroke-width="1.0"/>
<text x="188.50" y="207.50" font-size="7.8" text-anchor="middle" textLength="4.00" lengthAdjust="spacingAndGlyphs" fill="#333333">2</text>
<line x1="201.65" y1="195.30" x2="201.65" y2="198.40" stroke="#333333" stroke-width="1.0"/>
<text x="201.65" y="207.50" font-size="7.8" text-anchor="middle" textLength="4.00" lengthAdjust="spacingAndGlyphs" fill="#333333">3</text>
<line x1="214.80" y1="195.30" x2="214.80" y2="198.40" stroke="#333333" stroke-width="1.0"/>
<text x="214.80" y="207.50" font-size="7.8" text-anchor="middle" textLength="4.00" lengthAdjust="spacingAndGlyphs" fill="#333333">4</text>
<line x1="227.95" y1="195.30" x2="227.95" y2="198.40" stroke="#333333" stroke-width="1.0"/>
<text x="227.95" y="207.50" font-size="7.8" text-anchor="middle" textLength="4.00" lengthAdjust="spacingAndGlyphs" fill="#333333">5</text>
<line x1="241.10" y1="195.30" x2="241.10" y2="198.40" stroke="#333333" stroke-width="1.0"/>
<text x="241.10" y="207.50" font-size="7.8" text-anchor="middle" textLength="4.00" lengthAdjust="spacingAndGlyphs" fill="#333333">6</text>
<line x1="254.25" y1="195.30" x2="254.25" y2="198.40" stroke="#333333" stroke-width="1.0"/>
<text x="254.25" y="207.50" font-size="7.8" text-anchor="middle" textLength="4.00" lengthAdjust="spacingAndGlyphs" fill="#333333">7</text>
<line x1="267.40" y1="195.30" x2="267.40" y2="198.40" stroke="#333333" stroke-width="1.0"/>
<text x="267.40" y="207.50" font-size="7.8" text-anchor="middle" textLength="4.00" lengthAdjust="spacingAndGlyphs" fill="#333333">8</text>
<path d="M162.2 85.70 H214.80 V96.66 H227.95 V118.58 H254.25" fill="none" stroke="#1f5b98" stroke-width="1.5"/>
<path d="M162.2 85.70 H188.50 V105.65 H201.65 V125.59 H214.80 V145.43 H227.95 V155.41 H253.45" fill="none" stroke="#c8203c" stroke-width="1.5" stroke-dasharray="3.4 1.4"/>
<text x="217.60" y="90.20" font-size="7.8" textLength="42.60" lengthAdjust="spacingAndGlyphs" fill="#333333">P value: 0.04</text>
<line x1="164.40" y1="168.50" x2="175.80" y2="168.50" stroke="#c8203c" stroke-width="1.5" stroke-dasharray="3.0 1.4"/>
<line x1="164.40" y1="178.60" x2="175.80" y2="178.60" stroke="#1f5b98" stroke-width="1.5"/>
<text x="178.60" y="170.10" font-size="8.0" font-style="italic" textLength="48.10" lengthAdjust="spacingAndGlyphs" fill="#333333"><tspan>PKM2</tspan><tspan font-size="4.24" dy="-2.72">fl/fl</tspan><tspan dy="2.72">Apoe</tspan><tspan font-size="4.24" dy="-2.72">-/-</tspan></text>
<text x="178.60" y="180.60" font-size="8.0" font-style="italic" textLength="81.80" lengthAdjust="spacingAndGlyphs" fill="#333333"><tspan>PKM2</tspan><tspan font-size="4.24" dy="-2.72">fl/fl</tspan><tspan dy="2.72">LysMCre</tspan><tspan font-size="4.24" dy="-2.72">+/-</tspan><tspan dy="2.72">Apoe</tspan><tspan font-size="4.24" dy="-2.72">-/-</tspan></text>
<text transform="translate(145.30,135.80) rotate(-90)" x="0" y="0" font-size="9.4" text-anchor="middle" fill="#333333" textLength="38.20" lengthAdjust="spacingAndGlyphs">Survival (%)</text>
<text x="207.80" y="216.70" font-size="9.0" textLength="15.10" lengthAdjust="spacingAndGlyphs" fill="#333333">Days</text>
<text x="140.80" y="257.80" font-size="11.0" font-weight="bold" fill="#0a0a0a">G</text>
<line x1="160.20" y1="257.40" x2="160.20" y2="378.90" stroke="#333333" stroke-width="1.15"/>
<line x1="159.70" y1="378.40" x2="266.00" y2="378.40" stroke="#333333" stroke-width="1.15"/>
<line x1="157.00" y1="274.70" x2="160.20" y2="274.70" stroke="#333333" stroke-width="1.0"/>
<text x="153.30" y="277.49" font-size="7.8" text-anchor="end" textLength="12.00" lengthAdjust="spacingAndGlyphs" fill="#333333">100</text>
<line x1="157.00" y1="296.70" x2="160.20" y2="296.70" stroke="#333333" stroke-width="1.0"/>
<text x="153.30" y="299.49" font-size="7.8" text-anchor="end" textLength="8.00" lengthAdjust="spacingAndGlyphs" fill="#333333">80</text>
<line x1="157.00" y1="318.70" x2="160.20" y2="318.70" stroke="#333333" stroke-width="1.0"/>
<text x="153.30" y="321.49" font-size="7.8" text-anchor="end" textLength="8.00" lengthAdjust="spacingAndGlyphs" fill="#333333">60</text>
<line x1="157.00" y1="340.70" x2="160.20" y2="340.70" stroke="#333333" stroke-width="1.0"/>
<text x="153.30" y="343.49" font-size="7.8" text-anchor="end" textLength="8.00" lengthAdjust="spacingAndGlyphs" fill="#333333">40</text>
<line x1="157.00" y1="362.70" x2="160.20" y2="362.70" stroke="#333333" stroke-width="1.0"/>
<text x="153.30" y="365.49" font-size="7.8" text-anchor="end" textLength="8.00" lengthAdjust="spacingAndGlyphs" fill="#333333">20</text>
<line x1="157.00" y1="378.40" x2="160.20" y2="378.40" stroke="#333333" stroke-width="1.0"/>
<text x="153.30" y="381.19" font-size="7.8" text-anchor="end" textLength="4.00" lengthAdjust="spacingAndGlyphs" fill="#333333">0</text>
<line x1="173.35" y1="378.40" x2="173.35" y2="381.50" stroke="#333333" stroke-width="1.0"/>
<text x="173.35" y="389.90" font-size="7.8" text-anchor="middle" textLength="4.00" lengthAdjust="spacingAndGlyphs" fill="#333333">1</text>
<line x1="186.50" y1="378.40" x2="186.50" y2="381.50" stroke="#333333" stroke-width="1.0"/>
<text x="186.50" y="389.90" font-size="7.8" text-anchor="middle" textLength="4.00" lengthAdjust="spacingAndGlyphs" fill="#333333">2</text>
<line x1="199.65" y1="378.40" x2="199.65" y2="381.50" stroke="#333333" stroke-width="1.0"/>
<text x="199.65" y="389.90" font-size="7.8" text-anchor="middle" textLength="4.00" lengthAdjust="spacingAndGlyphs" fill="#333333">3</text>
<line x1="212.80" y1="378.40" x2="212.80" y2="381.50" stroke="#333333" stroke-width="1.0"/>
<text x="212.80" y="389.90" font-size="7.8" text-anchor="middle" textLength="4.00" lengthAdjust="spacingAndGlyphs" fill="#333333">4</text>
<line x1="225.95" y1="378.40" x2="225.95" y2="381.50" stroke="#333333" stroke-width="1.0"/>
<text x="225.95" y="389.90" font-size="7.8" text-anchor="middle" textLength="4.00" lengthAdjust="spacingAndGlyphs" fill="#333333">5</text>
<line x1="239.10" y1="378.40" x2="239.10" y2="381.50" stroke="#333333" stroke-width="1.0"/>
<text x="239.10" y="389.90" font-size="7.8" text-anchor="middle" textLength="4.00" lengthAdjust="spacingAndGlyphs" fill="#333333">6</text>
<line x1="252.25" y1="378.40" x2="252.25" y2="381.50" stroke="#333333" stroke-width="1.0"/>
<text x="252.25" y="389.90" font-size="7.8" text-anchor="middle" textLength="4.00" lengthAdjust="spacingAndGlyphs" fill="#333333">7</text>
<line x1="265.40" y1="378.40" x2="265.40" y2="381.50" stroke="#333333" stroke-width="1.0"/>
<text x="265.40" y="389.90" font-size="7.8" text-anchor="middle" textLength="4.00" lengthAdjust="spacingAndGlyphs" fill="#333333">8</text>
<path d="M160.2 274.70 H186.50 V284.71 H212.80 V294.72 H225.95 V314.74 H239.10 V324.75 H252.25" fill="none" stroke="#1f5b98" stroke-width="1.5"/>
<path d="M160.2 274.70 H173.35 V294.72 H199.65 V324.75 H212.80 V354.67 H251.45" fill="none" stroke="#c8203c" stroke-width="1.5" stroke-dasharray="3.4 1.4"/>
<text x="217.80" y="280.00" font-size="7.8" textLength="42.60" lengthAdjust="spacingAndGlyphs" fill="#333333">P value: 0.04</text>
<line x1="163.00" y1="364.10" x2="173.10" y2="364.10" stroke="#c8203c" stroke-width="1.5" stroke-dasharray="3.0 1.4"/>
<line x1="163.00" y1="372.80" x2="173.10" y2="372.80" stroke="#1f5b98" stroke-width="1.5"/>
<text x="176.70" y="366.10" font-size="8.0" font-style="italic" textLength="49.50" lengthAdjust="spacingAndGlyphs" fill="#333333"><tspan>PKM2</tspan><tspan font-size="4.24" dy="-2.72">fl/fl</tspan><tspan dy="2.72">Apoe</tspan><tspan font-size="4.24" dy="-2.72">-/-</tspan></text>
<text x="176.70" y="374.80" font-size="8.0" font-style="italic" textLength="78.80" lengthAdjust="spacingAndGlyphs" fill="#333333"><tspan>PKM2</tspan><tspan font-size="4.24" dy="-2.72">fl/fl</tspan><tspan dy="2.72">LysMCre</tspan><tspan font-size="4.24" dy="-2.72">+/-</tspan><tspan dy="2.72">Apoe</tspan><tspan font-size="4.24" dy="-2.72">-/-</tspan></text>
<text transform="translate(142.30,328.30) rotate(-90)" x="0" y="0" font-size="9.4" text-anchor="middle" fill="#333333" textLength="36.10" lengthAdjust="spacingAndGlyphs">Survival (%)</text>
<text x="205.00" y="400.60" font-size="9.0" textLength="15.80" lengthAdjust="spacingAndGlyphs" fill="#333333">Days</text>
<text x="268.70" y="63.70" font-size="11.0" font-weight="bold" fill="#0a0a0a">D</text>
<line x1="285.80" y1="74.19" x2="285.80" y2="195.80" stroke="#333333" stroke-width="1.15"/>
<line x1="283.20" y1="195.30" x2="391.90" y2="195.30" stroke="#333333" stroke-width="1.15"/>
<text x="280.10" y="197.99" font-size="7.5" text-anchor="end" textLength="3.85" lengthAdjust="spacingAndGlyphs" fill="#333333">0</text>
<line x1="282.70" y1="175.18" x2="285.80" y2="175.18" stroke="#333333" stroke-width="1.0"/>
<text x="280.10" y="177.87" font-size="7.5" text-anchor="end" textLength="3.85" lengthAdjust="spacingAndGlyphs" fill="#333333">3</text>
<line x1="282.70" y1="155.06" x2="285.80" y2="155.06" stroke="#333333" stroke-width="1.0"/>
<text x="280.10" y="157.75" font-size="7.5" text-anchor="end" textLength="3.85" lengthAdjust="spacingAndGlyphs" fill="#333333">6</text>
<line x1="282.70" y1="134.95" x2="285.80" y2="134.95" stroke="#333333" stroke-width="1.0"/>
<text x="280.10" y="137.63" font-size="7.5" text-anchor="end" textLength="3.85" lengthAdjust="spacingAndGlyphs" fill="#333333">9</text>
<line x1="282.70" y1="114.83" x2="285.80" y2="114.83" stroke="#333333" stroke-width="1.0"/>
<text x="280.10" y="117.51" font-size="7.5" text-anchor="end" textLength="7.70" lengthAdjust="spacingAndGlyphs" fill="#333333">12</text>
<line x1="282.70" y1="94.71" x2="285.80" y2="94.71" stroke="#333333" stroke-width="1.0"/>
<text x="280.10" y="97.40" font-size="7.5" text-anchor="end" textLength="7.70" lengthAdjust="spacingAndGlyphs" fill="#333333">15</text>
<line x1="282.70" y1="74.59" x2="285.80" y2="74.59" stroke="#333333" stroke-width="1.0"/>
<text x="280.10" y="77.28" font-size="7.5" text-anchor="end" textLength="7.70" lengthAdjust="spacingAndGlyphs" fill="#333333">18</text>
<text transform="translate(270.50,128.35) rotate(-90)" x="0" y="0" font-size="8.5" text-anchor="middle" fill="#333333" textLength="89.10" lengthAdjust="spacingAndGlyphs">Neurological severity score</text>
<circle cx="287.9" cy="60.5" r="1.2" fill="#c4122f"/>
<rect x="286.75" y="68.95" width="2.3" height="2.3" fill="#0d4a8c"/>
<text x="293.10" y="62.40" font-size="7.1" font-style="italic" textLength="49.20" lengthAdjust="spacingAndGlyphs" fill="#333333"><tspan>PKM2</tspan><tspan font-size="3.76" dy="-2.41">fl/fl</tspan><tspan dy="2.41">Apoe</tspan><tspan font-size="3.76" dy="-2.41">-/-</tspan></text>
<text x="293.10" y="72.00" font-size="7.1" font-style="italic" textLength="86.10" lengthAdjust="spacingAndGlyphs" fill="#333333"><tspan>PKM2</tspan><tspan font-size="3.76" dy="-2.41">fl/fl</tspan><tspan dy="2.41">LysMCre</tspan><tspan font-size="3.76" dy="-2.41">+/-</tspan><tspan dy="2.41">Apoe</tspan><tspan font-size="3.76" dy="-2.41">-/-</tspan></text>
<line x1="295.00" y1="114.83" x2="295.00" y2="121.53" stroke="#c8203c" stroke-width="1.0"/>
<line x1="295.00" y1="148.36" x2="295.00" y2="155.06" stroke="#c8203c" stroke-width="1.0"/>
<line x1="292.80" y1="114.83" x2="297.20" y2="114.83" stroke="#c8203c" stroke-width="1.0"/>
<line x1="292.80" y1="155.06" x2="297.20" y2="155.06" stroke="#c8203c" stroke-width="1.0"/>
<rect x="290.35" y="121.53" width="9.30" height="26.82" fill="none" stroke="#c8203c" stroke-width="1.0"/>
<line x1="290.35" y1="138.30" x2="299.65" y2="138.30" stroke="#c8203c" stroke-width="1.0"/>
<circle cx="292.00" cy="114.83" r="1.15" fill="#c4122f"/>
<circle cx="298.00" cy="114.83" r="1.15" fill="#c4122f"/>
<circle cx="295.00" cy="121.53" r="1.15" fill="#c4122f"/>
<circle cx="295.00" cy="128.24" r="1.15" fill="#c4122f"/>
<circle cx="291.80" cy="134.95" r="1.15" fill="#c4122f"/>
<circle cx="298.20" cy="134.95" r="1.15" fill="#c4122f"/>
<circle cx="291.80" cy="141.65" r="1.15" fill="#c4122f"/>
<circle cx="298.20" cy="141.65" r="1.15" fill="#c4122f"/>
<circle cx="295.00" cy="148.36" r="1.15" fill="#c4122f"/>
<circle cx="292.00" cy="155.06" r="1.15" fill="#c4122f"/>
<circle cx="298.00" cy="155.06" r="1.15" fill="#c4122f"/>
<line x1="309.25" y1="94.71" x2="309.25" y2="101.42" stroke="#1f5b98" stroke-width="1.0"/>
<line x1="309.25" y1="114.83" x2="309.25" y2="121.53" stroke="#1f5b98" stroke-width="1.0"/>
<line x1="307.05" y1="94.71" x2="311.45" y2="94.71" stroke="#1f5b98" stroke-width="1.0"/>
<line x1="307.05" y1="121.53" x2="311.45" y2="121.53" stroke="#1f5b98" stroke-width="1.0"/>
<rect x="304.80" y="101.42" width="8.90" height="13.41" fill="none" stroke="#1f5b98" stroke-width="1.0"/>
<line x1="304.80" y1="108.12" x2="313.70" y2="108.12" stroke="#1f5b98" stroke-width="1.0"/>
<rect x="308.15" y="93.61" width="2.2" height="2.2" fill="#0d4a8c"/>
<rect x="305.65" y="100.32" width="2.2" height="2.2" fill="#0d4a8c"/>
<rect x="310.65" y="100.32" width="2.2" height="2.2" fill="#0d4a8c"/>
<rect x="308.15" y="107.02" width="2.2" height="2.2" fill="#0d4a8c"/>
<rect x="305.65" y="113.73" width="2.2" height="2.2" fill="#0d4a8c"/>
<rect x="310.65" y="113.73" width="2.2" height="2.2" fill="#0d4a8c"/>
<rect x="308.15" y="120.43" width="2.2" height="2.2" fill="#0d4a8c"/>
<line x1="327.20" y1="114.83" x2="327.20" y2="125.56" stroke="#c8203c" stroke-width="1.0"/>
<line x1="327.20" y1="145.00" x2="327.20" y2="148.36" stroke="#c8203c" stroke-width="1.0"/>
<line x1="325.00" y1="114.83" x2="329.40" y2="114.83" stroke="#c8203c" stroke-width="1.0"/>
<line x1="325.00" y1="148.36" x2="329.40" y2="148.36" stroke="#c8203c" stroke-width="1.0"/>
<rect x="323.05" y="125.56" width="8.30" height="19.45" fill="none" stroke="#c8203c" stroke-width="1.0"/>
<line x1="323.05" y1="141.65" x2="331.35" y2="141.65" stroke="#c8203c" stroke-width="1.0"/>
<circle cx="327.20" cy="114.83" r="1.15" fill="#c4122f"/>
<circle cx="327.20" cy="128.24" r="1.15" fill="#c4122f"/>
<circle cx="327.20" cy="134.95" r="1.15" fill="#c4122f"/>
<circle cx="324.20" cy="141.65" r="1.15" fill="#c4122f"/>
<circle cx="327.20" cy="141.65" r="1.15" fill="#c4122f"/>
<circle cx="330.20" cy="141.65" r="1.15" fill="#c4122f"/>
<circle cx="324.70" cy="148.36" r="1.15" fill="#c4122f"/>
<circle cx="329.70" cy="148.36" r="1.15" fill="#c4122f"/>
<line x1="341.70" y1="94.71" x2="341.70" y2="100.07" stroke="#1f5b98" stroke-width="1.0"/>
<line x1="341.70" y1="114.83" x2="341.70" y2="121.53" stroke="#1f5b98" stroke-width="1.0"/>
<line x1="339.50" y1="94.71" x2="343.90" y2="94.71" stroke="#1f5b98" stroke-width="1.0"/>
<line x1="339.50" y1="121.53" x2="343.90" y2="121.53" stroke="#1f5b98" stroke-width="1.0"/>
<rect x="336.90" y="100.07" width="9.60" height="14.75" fill="none" stroke="#1f5b98" stroke-width="1.0"/>
<line x1="336.90" y1="108.12" x2="346.50" y2="108.12" stroke="#1f5b98" stroke-width="1.0"/>
<rect x="338.10" y="93.61" width="2.2" height="2.2" fill="#0d4a8c"/>
<rect x="343.10" y="93.61" width="2.2" height="2.2" fill="#0d4a8c"/>
<rect x="337.60" y="100.32" width="2.2" height="2.2" fill="#0d4a8c"/>
<rect x="343.60" y="100.32" width="2.2" height="2.2" fill="#0d4a8c"/>
<rect x="337.60" y="107.02" width="2.2" height="2.2" fill="#0d4a8c"/>
<rect x="343.60" y="107.02" width="2.2" height="2.2" fill="#0d4a8c"/>
<rect x="337.60" y="113.73" width="2.2" height="2.2" fill="#0d4a8c"/>
<rect x="343.60" y="113.73" width="2.2" height="2.2" fill="#0d4a8c"/>
<rect x="340.60" y="120.43" width="2.2" height="2.2" fill="#0d4a8c"/>
<line x1="360.20" y1="121.53" x2="360.20" y2="123.21" stroke="#c8203c" stroke-width="1.0"/>
<line x1="360.20" y1="153.39" x2="360.20" y2="155.06" stroke="#c8203c" stroke-width="1.0"/>
<line x1="358.00" y1="121.53" x2="362.40" y2="121.53" stroke="#c8203c" stroke-width="1.0"/>
<line x1="358.00" y1="155.06" x2="362.40" y2="155.06" stroke="#c8203c" stroke-width="1.0"/>
<rect x="355.75" y="123.21" width="8.90" height="30.18" fill="none" stroke="#c8203c" stroke-width="1.0"/>
<line x1="355.75" y1="138.30" x2="364.65" y2="138.30" stroke="#c8203c" stroke-width="1.0"/>
<circle cx="360.20" cy="121.53" r="1.15" fill="#c4122f"/>
<circle cx="360.20" cy="128.24" r="1.15" fill="#c4122f"/>
<circle cx="360.20" cy="148.36" r="1.15" fill="#c4122f"/>
<circle cx="360.20" cy="155.06" r="1.15" fill="#c4122f"/>
<line x1="373.90" y1="94.71" x2="373.90" y2="101.42" stroke="#1f5b98" stroke-width="1.0"/>
<line x1="373.90" y1="114.83" x2="373.90" y2="121.53" stroke="#1f5b98" stroke-width="1.0"/>
<line x1="371.70" y1="94.71" x2="376.10" y2="94.71" stroke="#1f5b98" stroke-width="1.0"/>
<line x1="371.70" y1="121.53" x2="376.10" y2="121.53" stroke="#1f5b98" stroke-width="1.0"/>
<rect x="369.30" y="101.42" width="9.20" height="13.41" fill="none" stroke="#1f5b98" stroke-width="1.0"/>
<line x1="369.30" y1="114.83" x2="378.50" y2="114.83" stroke="#1f5b98" stroke-width="1.0"/>
<rect x="372.80" y="93.61" width="2.2" height="2.2" fill="#0d4a8c"/>
<rect x="369.80" y="100.32" width="2.2" height="2.2" fill="#0d4a8c"/>
<rect x="369.80" y="113.73" width="2.2" height="2.2" fill="#0d4a8c"/>
<rect x="372.80" y="113.73" width="2.2" height="2.2" fill="#0d4a8c"/>
<rect x="375.80" y="113.73" width="2.2" height="2.2" fill="#0d4a8c"/>
<rect x="372.80" y="120.43" width="2.2" height="2.2" fill="#0d4a8c"/>
<text x="291.50" y="88.50" font-size="7.6" textLength="23.20" lengthAdjust="spacingAndGlyphs" fill="#333333">P&lt;0.05</text>
<line x1="295.00" y1="91.20" x2="310.80" y2="91.20" stroke="#444" stroke-width="0.9"/>
<text x="325.70" y="88.50" font-size="7.6" textLength="23.20" lengthAdjust="spacingAndGlyphs" fill="#333333">P&lt;0.05</text>
<line x1="326.50" y1="91.10" x2="342.40" y2="91.10" stroke="#444" stroke-width="0.9"/>
<text x="354.80" y="88.50" font-size="7.6" textLength="23.20" lengthAdjust="spacingAndGlyphs" fill="#333333">P&lt;0.05</text>
<line x1="358.50" y1="91.10" x2="374.30" y2="91.10" stroke="#444" stroke-width="0.9"/>
<text x="292.60" y="205.30" font-size="7.6" textLength="18.80" lengthAdjust="spacingAndGlyphs" fill="#333333">Day 1</text>
<text x="326.80" y="205.30" font-size="7.6" textLength="18.80" lengthAdjust="spacingAndGlyphs" fill="#333333">Day 3</text>
<text x="359.40" y="205.30" font-size="7.6" textLength="18.80" lengthAdjust="spacingAndGlyphs" fill="#333333">Day 7</text>
<text x="394.70" y="64.50" font-size="11.0" font-weight="bold" fill="#0a0a0a">E</text>
<line x1="414.20" y1="74.90" x2="414.20" y2="195.80" stroke="#333333" stroke-width="1.15"/>
<line x1="411.60" y1="195.30" x2="512.30" y2="195.30" stroke="#333333" stroke-width="1.15"/>
<text x="409.80" y="198.02" font-size="7.6" text-anchor="end" textLength="4.25" lengthAdjust="spacingAndGlyphs" fill="#333333">0</text>
<line x1="411.10" y1="165.30" x2="414.20" y2="165.30" stroke="#333333" stroke-width="1.0"/>
<text x="409.80" y="168.02" font-size="7.6" text-anchor="end" textLength="8.50" lengthAdjust="spacingAndGlyphs" fill="#333333">10</text>
<line x1="411.10" y1="135.30" x2="414.20" y2="135.30" stroke="#333333" stroke-width="1.0"/>
<text x="409.80" y="138.02" font-size="7.6" text-anchor="end" textLength="8.50" lengthAdjust="spacingAndGlyphs" fill="#333333">20</text>
<line x1="411.10" y1="105.30" x2="414.20" y2="105.30" stroke="#333333" stroke-width="1.0"/>
<text x="409.80" y="108.02" font-size="7.6" text-anchor="end" textLength="8.50" lengthAdjust="spacingAndGlyphs" fill="#333333">30</text>
<line x1="411.10" y1="75.30" x2="414.20" y2="75.30" stroke="#333333" stroke-width="1.0"/>
<text x="409.80" y="78.02" font-size="7.6" text-anchor="end" textLength="8.50" lengthAdjust="spacingAndGlyphs" fill="#333333">40</text>
<text transform="translate(398.00,127.30) rotate(-90)" x="0" y="0" font-size="7.8" text-anchor="middle" fill="#333333" textLength="70.00" lengthAdjust="spacingAndGlyphs">Fall latency (seconds)</text>
<circle cx="417.9" cy="61.4" r="1.2" fill="#c4122f"/>
<rect x="416.75" y="69.85" width="2.3" height="2.3" fill="#0d4a8c"/>
<text x="423.10" y="63.90" font-size="7.1" font-style="italic" textLength="49.60" lengthAdjust="spacingAndGlyphs" fill="#333333"><tspan>PKM2</tspan><tspan font-size="3.76" dy="-2.41">fl/fl</tspan><tspan dy="2.41">Apoe</tspan><tspan font-size="3.76" dy="-2.41">-/-</tspan></text>
<text x="423.10" y="73.10" font-size="7.1" font-style="italic" textLength="85.60" lengthAdjust="spacingAndGlyphs" fill="#333333"><tspan>PKM2</tspan><tspan font-size="3.76" dy="-2.41">fl/fl</tspan><tspan dy="2.41">LysMCre</tspan><tspan font-size="3.76" dy="-2.41">+/-</tspan><tspan dy="2.41">Apoe</tspan><tspan font-size="3.76" dy="-2.41">-/-</tspan></text>
<line x1="423.85" y1="135.30" x2="423.85" y2="150.30" stroke="#c8203c" stroke-width="1.0"/>
<line x1="423.85" y1="167.70" x2="423.85" y2="174.30" stroke="#c8203c" stroke-width="1.0"/>
<line x1="421.65" y1="135.30" x2="426.05" y2="135.30" stroke="#c8203c" stroke-width="1.0"/>
<line x1="421.65" y1="174.30" x2="426.05" y2="174.30" stroke="#c8203c" stroke-width="1.0"/>
<rect x="419.40" y="150.30" width="8.90" height="17.40" fill="none" stroke="#c8203c" stroke-width="1.0"/>
<line x1="419.40" y1="163.50" x2="428.30" y2="163.50" stroke="#c8203c" stroke-width="1.0"/>
<circle cx="423.85" cy="135.30" r="1.15" fill="#c4122f"/>
<circle cx="423.85" cy="141.30" r="1.15" fill="#c4122f"/>
<circle cx="423.85" cy="156.30" r="1.15" fill="#c4122f"/>
<circle cx="420.85" cy="163.50" r="1.15" fill="#c4122f"/>
<circle cx="426.85" cy="163.50" r="1.15" fill="#c4122f"/>
<circle cx="423.85" cy="168.30" r="1.15" fill="#c4122f"/>
<circle cx="421.35" cy="171.30" r="1.15" fill="#c4122f"/>
<circle cx="426.35" cy="171.30" r="1.15" fill="#c4122f"/>
<circle cx="423.85" cy="174.30" r="1.15" fill="#c4122f"/>
<line x1="437.60" y1="108.30" x2="437.60" y2="138.30" stroke="#1f5b98" stroke-width="1.0"/>
<line x1="437.60" y1="152.10" x2="437.60" y2="162.30" stroke="#1f5b98" stroke-width="1.0"/>
<line x1="435.40" y1="108.30" x2="439.80" y2="108.30" stroke="#1f5b98" stroke-width="1.0"/>
<line x1="435.40" y1="162.30" x2="439.80" y2="162.30" stroke="#1f5b98" stroke-width="1.0"/>
<rect x="432.90" y="138.30" width="9.40" height="13.80" fill="none" stroke="#1f5b98" stroke-width="1.0"/>
<line x1="432.90" y1="145.20" x2="442.30" y2="145.20" stroke="#1f5b98" stroke-width="1.0"/>
<rect x="436.50" y="107.20" width="2.2" height="2.2" fill="#0d4a8c"/>
<rect x="436.50" y="137.20" width="2.2" height="2.2" fill="#0d4a8c"/>
<rect x="433.50" y="141.70" width="2.2" height="2.2" fill="#0d4a8c"/>
<rect x="439.50" y="141.70" width="2.2" height="2.2" fill="#0d4a8c"/>
<rect x="433.50" y="149.20" width="2.2" height="2.2" fill="#0d4a8c"/>
<rect x="439.50" y="149.20" width="2.2" height="2.2" fill="#0d4a8c"/>
<rect x="436.50" y="152.20" width="2.2" height="2.2" fill="#0d4a8c"/>
<rect x="436.50" y="161.20" width="2.2" height="2.2" fill="#0d4a8c"/>
<line x1="456.65" y1="156.30" x2="456.65" y2="165.30" stroke="#c8203c" stroke-width="1.0"/>
<line x1="456.65" y1="177.30" x2="456.65" y2="177.30" stroke="#c8203c" stroke-width="1.0"/>
<line x1="454.45" y1="156.30" x2="458.85" y2="156.30" stroke="#c8203c" stroke-width="1.0"/>
<line x1="454.45" y1="177.30" x2="458.85" y2="177.30" stroke="#c8203c" stroke-width="1.0"/>
<rect x="452.30" y="165.30" width="8.70" height="12.00" fill="none" stroke="#c8203c" stroke-width="1.0"/>
<line x1="452.30" y1="169.80" x2="461.00" y2="169.80" stroke="#c8203c" stroke-width="1.0"/>
<circle cx="456.65" cy="156.30" r="1.15" fill="#c4122f"/>
<circle cx="453.85" cy="165.30" r="1.15" fill="#c4122f"/>
<circle cx="456.65" cy="165.30" r="1.15" fill="#c4122f"/>
<circle cx="459.45" cy="165.30" r="1.15" fill="#c4122f"/>
<circle cx="456.65" cy="171.30" r="1.15" fill="#c4122f"/>
<circle cx="453.85" cy="177.30" r="1.15" fill="#c4122f"/>
<circle cx="456.65" cy="177.30" r="1.15" fill="#c4122f"/>
<circle cx="459.45" cy="177.30" r="1.15" fill="#c4122f"/>
<line x1="470.10" y1="108.30" x2="470.10" y2="116.40" stroke="#1f5b98" stroke-width="1.0"/>
<line x1="470.10" y1="140.70" x2="470.10" y2="156.30" stroke="#1f5b98" stroke-width="1.0"/>
<line x1="467.90" y1="108.30" x2="472.30" y2="108.30" stroke="#1f5b98" stroke-width="1.0"/>
<line x1="467.90" y1="156.30" x2="472.30" y2="156.30" stroke="#1f5b98" stroke-width="1.0"/>
<rect x="465.60" y="116.40" width="9.00" height="24.30" fill="none" stroke="#1f5b98" stroke-width="1.0"/>
<line x1="465.60" y1="129.30" x2="474.60" y2="129.30" stroke="#1f5b98" stroke-width="1.0"/>
<rect x="469.00" y="107.20" width="2.2" height="2.2" fill="#0d4a8c"/>
<rect x="469.00" y="116.20" width="2.2" height="2.2" fill="#0d4a8c"/>
<rect x="469.00" y="125.20" width="2.2" height="2.2" fill="#0d4a8c"/>
<rect x="469.00" y="129.70" width="2.2" height="2.2" fill="#0d4a8c"/>
<rect x="469.00" y="134.20" width="2.2" height="2.2" fill="#0d4a8c"/>
<rect x="469.00" y="149.20" width="2.2" height="2.2" fill="#0d4a8c"/>
<rect x="469.00" y="155.20" width="2.2" height="2.2" fill="#0d4a8c"/>
<line x1="488.85" y1="135.30" x2="488.85" y2="141.90" stroke="#c8203c" stroke-width="1.0"/>
<line x1="488.85" y1="171.90" x2="488.85" y2="171.30" stroke="#c8203c" stroke-width="1.0"/>
<line x1="486.65" y1="135.30" x2="491.05" y2="135.30" stroke="#c8203c" stroke-width="1.0"/>
<line x1="486.65" y1="171.30" x2="491.05" y2="171.30" stroke="#c8203c" stroke-width="1.0"/>
<rect x="484.40" y="141.90" width="8.90" height="30.00" fill="none" stroke="#c8203c" stroke-width="1.0"/>
<line x1="484.40" y1="167.70" x2="493.30" y2="167.70" stroke="#c8203c" stroke-width="1.0"/>
<circle cx="488.85" cy="135.30" r="1.15" fill="#c4122f"/>
<circle cx="488.85" cy="162.30" r="1.15" fill="#c4122f"/>
<circle cx="486.05" cy="171.30" r="1.15" fill="#c4122f"/>
<circle cx="491.65" cy="171.30" r="1.15" fill="#c4122f"/>
<line x1="502.85" y1="89.40" x2="502.85" y2="89.40" stroke="#1f5b98" stroke-width="1.0"/>
<line x1="502.85" y1="110.40" x2="502.85" y2="141.30" stroke="#1f5b98" stroke-width="1.0"/>
<line x1="500.65" y1="89.40" x2="505.05" y2="89.40" stroke="#1f5b98" stroke-width="1.0"/>
<line x1="500.65" y1="141.30" x2="505.05" y2="141.30" stroke="#1f5b98" stroke-width="1.0"/>
<rect x="498.50" y="89.40" width="8.70" height="21.00" fill="none" stroke="#1f5b98" stroke-width="1.0"/>
<line x1="498.50" y1="96.30" x2="507.20" y2="96.30" stroke="#1f5b98" stroke-width="1.0"/>
<rect x="498.95" y="89.20" width="2.2" height="2.2" fill="#0d4a8c"/>
<rect x="501.75" y="89.20" width="2.2" height="2.2" fill="#0d4a8c"/>
<rect x="504.55" y="89.20" width="2.2" height="2.2" fill="#0d4a8c"/>
<rect x="501.75" y="95.20" width="2.2" height="2.2" fill="#0d4a8c"/>
<rect x="501.75" y="109.30" width="2.2" height="2.2" fill="#0d4a8c"/>
<rect x="501.75" y="140.20" width="2.2" height="2.2" fill="#0d4a8c"/>
<text x="418.30" y="102.00" font-size="7.6" textLength="23.20" lengthAdjust="spacingAndGlyphs" fill="#333333">P&lt;0.05</text>
<line x1="422.50" y1="104.20" x2="438.10" y2="104.20" stroke="#444" stroke-width="0.9"/>
<text x="452.60" y="100.60" font-size="7.6" textLength="23.20" lengthAdjust="spacingAndGlyphs" fill="#333333">P&lt;0.05</text>
<line x1="454.70" y1="102.60" x2="471.10" y2="102.60" stroke="#444" stroke-width="0.9"/>
<text x="485.00" y="82.20" font-size="7.6" textLength="23.20" lengthAdjust="spacingAndGlyphs" fill="#333333">P&lt;0.05</text>
<line x1="487.40" y1="84.70" x2="503.30" y2="84.70" stroke="#444" stroke-width="0.9"/>
<text x="419.60" y="205.40" font-size="7.6" textLength="18.80" lengthAdjust="spacingAndGlyphs" fill="#333333">Day 1</text>
<text x="453.60" y="205.40" font-size="7.6" textLength="18.80" lengthAdjust="spacingAndGlyphs" fill="#333333">Day 3</text>
<text x="486.20" y="205.40" font-size="7.6" textLength="18.80" lengthAdjust="spacingAndGlyphs" fill="#333333">Day 7</text>
<text x="270.10" y="249.80" font-size="11.0" font-weight="bold" fill="#0a0a0a">H</text>
<line x1="285.80" y1="257.30" x2="285.80" y2="378.40" stroke="#333333" stroke-width="1.15"/>
<line x1="283.20" y1="377.90" x2="383.90" y2="377.90" stroke="#333333" stroke-width="1.15"/>
<text x="280.10" y="380.58" font-size="7.5" text-anchor="end" textLength="3.85" lengthAdjust="spacingAndGlyphs" fill="#333333">0</text>
<line x1="282.70" y1="357.87" x2="285.80" y2="357.87" stroke="#333333" stroke-width="1.0"/>
<text x="280.10" y="360.55" font-size="7.5" text-anchor="end" textLength="3.85" lengthAdjust="spacingAndGlyphs" fill="#333333">3</text>
<line x1="282.70" y1="337.83" x2="285.80" y2="337.83" stroke="#333333" stroke-width="1.0"/>
<text x="280.10" y="340.52" font-size="7.5" text-anchor="end" textLength="3.85" lengthAdjust="spacingAndGlyphs" fill="#333333">6</text>
<line x1="282.70" y1="317.80" x2="285.80" y2="317.80" stroke="#333333" stroke-width="1.0"/>
<text x="280.10" y="320.48" font-size="7.5" text-anchor="end" textLength="3.85" lengthAdjust="spacingAndGlyphs" fill="#333333">9</text>
<line x1="282.70" y1="297.76" x2="285.80" y2="297.76" stroke="#333333" stroke-width="1.0"/>
<text x="280.10" y="300.45" font-size="7.5" text-anchor="end" textLength="7.70" lengthAdjust="spacingAndGlyphs" fill="#333333">12</text>
<line x1="282.70" y1="277.73" x2="285.80" y2="277.73" stroke="#333333" stroke-width="1.0"/>
<text x="280.10" y="280.41" font-size="7.5" text-anchor="end" textLength="7.70" lengthAdjust="spacingAndGlyphs" fill="#333333">15</text>
<line x1="282.70" y1="257.70" x2="285.80" y2="257.70" stroke="#333333" stroke-width="1.0"/>
<text x="280.10" y="260.38" font-size="7.5" text-anchor="end" textLength="7.70" lengthAdjust="spacingAndGlyphs" fill="#333333">18</text>
<text transform="translate(267.80,314.00) rotate(-90)" x="0" y="0" font-size="8.5" text-anchor="middle" fill="#333333" textLength="89.00" lengthAdjust="spacingAndGlyphs">Neurological severity score</text>
<circle cx="287.9" cy="245.7" r="1.2" fill="#c4122f"/>
<rect x="286.75" y="252.65" width="2.3" height="2.3" fill="#0d4a8c"/>
<text x="293.10" y="247.60" font-size="7.1" font-style="italic" textLength="49.20" lengthAdjust="spacingAndGlyphs" fill="#333333"><tspan>PKM2</tspan><tspan font-size="3.76" dy="-2.41">fl/fl</tspan><tspan dy="2.41">Apoe</tspan><tspan font-size="3.76" dy="-2.41">-/-</tspan></text>
<text x="293.10" y="256.70" font-size="7.1" font-style="italic" textLength="86.10" lengthAdjust="spacingAndGlyphs" fill="#333333"><tspan>PKM2</tspan><tspan font-size="3.76" dy="-2.41">fl/fl</tspan><tspan dy="2.41">LysMCre</tspan><tspan font-size="3.76" dy="-2.41">+/-</tspan><tspan dy="2.41">Apoe</tspan><tspan font-size="3.76" dy="-2.41">-/-</tspan></text>
<line x1="295.20" y1="304.44" x2="295.20" y2="316.46" stroke="#c8203c" stroke-width="1.0"/>
<line x1="295.20" y1="325.81" x2="295.20" y2="337.83" stroke="#c8203c" stroke-width="1.0"/>
<line x1="293.00" y1="304.44" x2="297.40" y2="304.44" stroke="#c8203c" stroke-width="1.0"/>
<line x1="293.00" y1="337.83" x2="297.40" y2="337.83" stroke="#c8203c" stroke-width="1.0"/>
<rect x="290.80" y="316.46" width="8.80" height="9.35" fill="none" stroke="#c8203c" stroke-width="1.0"/>
<line x1="290.80" y1="321.14" x2="299.60" y2="321.14" stroke="#c8203c" stroke-width="1.0"/>
<circle cx="295.20" cy="304.44" r="1.15" fill="#c4122f"/>
<circle cx="295.20" cy="311.12" r="1.15" fill="#c4122f"/>
<circle cx="292.20" cy="317.80" r="1.15" fill="#c4122f"/>
<circle cx="298.20" cy="317.80" r="1.15" fill="#c4122f"/>
<circle cx="292.20" cy="324.48" r="1.15" fill="#c4122f"/>
<circle cx="298.20" cy="324.48" r="1.15" fill="#c4122f"/>
<circle cx="295.20" cy="331.15" r="1.15" fill="#c4122f"/>
<circle cx="295.20" cy="337.83" r="1.15" fill="#c4122f"/>
<line x1="309.10" y1="284.41" x2="309.10" y2="291.09" stroke="#1f5b98" stroke-width="1.0"/>
<line x1="309.10" y1="310.45" x2="309.10" y2="317.80" stroke="#1f5b98" stroke-width="1.0"/>
<line x1="306.90" y1="284.41" x2="311.30" y2="284.41" stroke="#1f5b98" stroke-width="1.0"/>
<line x1="306.90" y1="317.80" x2="311.30" y2="317.80" stroke="#1f5b98" stroke-width="1.0"/>
<rect x="304.40" y="291.09" width="9.40" height="19.37" fill="none" stroke="#1f5b98" stroke-width="1.0"/>
<line x1="304.40" y1="304.44" x2="313.80" y2="304.44" stroke="#1f5b98" stroke-width="1.0"/>
<rect x="308.00" y="283.31" width="2.2" height="2.2" fill="#0d4a8c"/>
<rect x="308.00" y="289.99" width="2.2" height="2.2" fill="#0d4a8c"/>
<rect x="305.20" y="303.34" width="2.2" height="2.2" fill="#0d4a8c"/>
<rect x="310.80" y="303.34" width="2.2" height="2.2" fill="#0d4a8c"/>
<rect x="308.00" y="309.35" width="2.2" height="2.2" fill="#0d4a8c"/>
<rect x="308.00" y="316.70" width="2.2" height="2.2" fill="#0d4a8c"/>
<line x1="327.80" y1="297.76" x2="327.80" y2="308.45" stroke="#c8203c" stroke-width="1.0"/>
<line x1="327.80" y1="327.15" x2="327.80" y2="331.15" stroke="#c8203c" stroke-width="1.0"/>
<line x1="325.60" y1="297.76" x2="330.00" y2="297.76" stroke="#c8203c" stroke-width="1.0"/>
<line x1="325.60" y1="331.15" x2="330.00" y2="331.15" stroke="#c8203c" stroke-width="1.0"/>
<rect x="323.60" y="308.45" width="8.40" height="18.70" fill="none" stroke="#c8203c" stroke-width="1.0"/>
<line x1="323.60" y1="324.48" x2="332.00" y2="324.48" stroke="#c8203c" stroke-width="1.0"/>
<circle cx="327.80" cy="297.76" r="1.15" fill="#c4122f"/>
<circle cx="327.80" cy="317.80" r="1.15" fill="#c4122f"/>
<circle cx="325.00" cy="324.48" r="1.15" fill="#c4122f"/>
<circle cx="330.60" cy="324.48" r="1.15" fill="#c4122f"/>
<circle cx="327.80" cy="331.15" r="1.15" fill="#c4122f"/>
<line x1="341.60" y1="277.73" x2="341.60" y2="288.41" stroke="#1f5b98" stroke-width="1.0"/>
<line x1="341.60" y1="311.12" x2="341.60" y2="317.80" stroke="#1f5b98" stroke-width="1.0"/>
<line x1="339.40" y1="277.73" x2="343.80" y2="277.73" stroke="#1f5b98" stroke-width="1.0"/>
<line x1="339.40" y1="317.80" x2="343.80" y2="317.80" stroke="#1f5b98" stroke-width="1.0"/>
<rect x="337.10" y="288.41" width="9.00" height="22.71" fill="none" stroke="#1f5b98" stroke-width="1.0"/>
<line x1="337.10" y1="297.76" x2="346.10" y2="297.76" stroke="#1f5b98" stroke-width="1.0"/>
<rect x="340.50" y="276.63" width="2.2" height="2.2" fill="#0d4a8c"/>
<rect x="340.50" y="283.31" width="2.2" height="2.2" fill="#0d4a8c"/>
<rect x="337.90" y="289.99" width="2.2" height="2.2" fill="#0d4a8c"/>
<rect x="343.10" y="289.99" width="2.2" height="2.2" fill="#0d4a8c"/>
<rect x="337.50" y="296.66" width="2.2" height="2.2" fill="#0d4a8c"/>
<rect x="343.50" y="296.66" width="2.2" height="2.2" fill="#0d4a8c"/>
<rect x="337.90" y="310.02" width="2.2" height="2.2" fill="#0d4a8c"/>
<rect x="343.10" y="310.02" width="2.2" height="2.2" fill="#0d4a8c"/>
<rect x="340.50" y="316.70" width="2.2" height="2.2" fill="#0d4a8c"/>
<line x1="360.30" y1="297.76" x2="360.30" y2="311.12" stroke="#c8203c" stroke-width="1.0"/>
<line x1="360.30" y1="311.12" x2="360.30" y2="331.15" stroke="#c8203c" stroke-width="1.0"/>
<line x1="358.10" y1="297.76" x2="362.50" y2="297.76" stroke="#c8203c" stroke-width="1.0"/>
<line x1="358.10" y1="331.15" x2="362.50" y2="331.15" stroke="#c8203c" stroke-width="1.0"/>
<line x1="356.00" y1="311.12" x2="364.60" y2="311.12" stroke="#c8203c" stroke-width="1.0"/>
<circle cx="360.30" cy="297.76" r="1.15" fill="#c4122f"/>
<circle cx="360.30" cy="311.12" r="1.15" fill="#c4122f"/>
<circle cx="360.30" cy="331.15" r="1.15" fill="#c4122f"/>
<line x1="374.20" y1="284.41" x2="374.20" y2="285.74" stroke="#1f5b98" stroke-width="1.0"/>
<line x1="374.20" y1="312.46" x2="374.20" y2="317.80" stroke="#1f5b98" stroke-width="1.0"/>
<line x1="372.00" y1="284.41" x2="376.40" y2="284.41" stroke="#1f5b98" stroke-width="1.0"/>
<line x1="372.00" y1="317.80" x2="376.40" y2="317.80" stroke="#1f5b98" stroke-width="1.0"/>
<rect x="369.70" y="285.74" width="9.00" height="26.71" fill="none" stroke="#1f5b98" stroke-width="1.0"/>
<line x1="369.70" y1="294.42" x2="378.70" y2="294.42" stroke="#1f5b98" stroke-width="1.0"/>
<rect x="370.10" y="283.31" width="2.2" height="2.2" fill="#0d4a8c"/>
<rect x="376.10" y="283.31" width="2.2" height="2.2" fill="#0d4a8c"/>
<rect x="373.10" y="289.99" width="2.2" height="2.2" fill="#0d4a8c"/>
<rect x="373.10" y="296.66" width="2.2" height="2.2" fill="#0d4a8c"/>
<rect x="373.10" y="311.36" width="2.2" height="2.2" fill="#0d4a8c"/>
<rect x="373.10" y="316.70" width="2.2" height="2.2" fill="#0d4a8c"/>
<text x="289.90" y="280.00" font-size="7.6" textLength="23.20" lengthAdjust="spacingAndGlyphs" fill="#333333">P&lt;0.05</text>
<line x1="292.60" y1="281.70" x2="307.90" y2="281.70" stroke="#444" stroke-width="0.9"/>
<text x="322.50" y="271.70" font-size="7.6" textLength="23.20" lengthAdjust="spacingAndGlyphs" fill="#333333">P&lt;0.05</text>
<line x1="326.20" y1="273.10" x2="341.20" y2="273.10" stroke="#444" stroke-width="0.9"/>
<text x="354.90" y="278.00" font-size="7.6" textLength="23.20" lengthAdjust="spacingAndGlyphs" fill="#333333">P&lt;0.05</text>
<line x1="357.90" y1="280.60" x2="374.20" y2="280.60" stroke="#444" stroke-width="0.9"/>
<text x="295.00" y="387.20" font-size="7.6" textLength="18.80" lengthAdjust="spacingAndGlyphs" fill="#333333">Day 1</text>
<text x="328.50" y="387.20" font-size="7.6" textLength="18.80" lengthAdjust="spacingAndGlyphs" fill="#333333">Day 3</text>
<text x="361.50" y="387.20" font-size="7.6" textLength="18.80" lengthAdjust="spacingAndGlyphs" fill="#333333">Day 7</text>
<text x="397.40" y="250.30" font-size="11.0" font-weight="bold" fill="#0a0a0a">I</text>
<line x1="415.20" y1="258.00" x2="415.20" y2="378.90" stroke="#333333" stroke-width="1.15"/>
<line x1="412.60" y1="378.40" x2="512.50" y2="378.40" stroke="#333333" stroke-width="1.15"/>
<text x="410.00" y="381.12" font-size="7.6" text-anchor="end" textLength="4.25" lengthAdjust="spacingAndGlyphs" fill="#333333">0</text>
<line x1="412.10" y1="348.40" x2="415.20" y2="348.40" stroke="#333333" stroke-width="1.0"/>
<text x="410.00" y="351.12" font-size="7.6" text-anchor="end" textLength="8.50" lengthAdjust="spacingAndGlyphs" fill="#333333">20</text>
<line x1="412.10" y1="318.40" x2="415.20" y2="318.40" stroke="#333333" stroke-width="1.0"/>
<text x="410.00" y="321.12" font-size="7.6" text-anchor="end" textLength="8.50" lengthAdjust="spacingAndGlyphs" fill="#333333">40</text>
<line x1="412.10" y1="288.40" x2="415.20" y2="288.40" stroke="#333333" stroke-width="1.0"/>
<text x="410.00" y="291.12" font-size="7.6" text-anchor="end" textLength="8.50" lengthAdjust="spacingAndGlyphs" fill="#333333">60</text>
<line x1="412.10" y1="258.40" x2="415.20" y2="258.40" stroke="#333333" stroke-width="1.0"/>
<text x="410.00" y="261.12" font-size="7.6" text-anchor="end" textLength="8.50" lengthAdjust="spacingAndGlyphs" fill="#333333">80</text>
<text transform="translate(396.30,317.70) rotate(-90)" x="0" y="0" font-size="7.8" text-anchor="middle" fill="#333333" textLength="70.00" lengthAdjust="spacingAndGlyphs">Fall latency (seconds)</text>
<circle cx="420.8" cy="247.0" r="1.2" fill="#c4122f"/>
<rect x="419.65" y="254.85" width="2.3" height="2.3" fill="#0d4a8c"/>
<text x="425.00" y="249.00" font-size="7.1" font-style="italic" textLength="49.60" lengthAdjust="spacingAndGlyphs" fill="#333333"><tspan>PKM2</tspan><tspan font-size="3.76" dy="-2.41">fl/fl</tspan><tspan dy="2.41">Apoe</tspan><tspan font-size="3.76" dy="-2.41">-/-</tspan></text>
<text x="425.00" y="258.00" font-size="7.1" font-style="italic" textLength="85.20" lengthAdjust="spacingAndGlyphs" fill="#333333"><tspan>PKM2</tspan><tspan font-size="3.76" dy="-2.41">fl/fl</tspan><tspan dy="2.41">LysMCre</tspan><tspan font-size="3.76" dy="-2.41">+/-</tspan><tspan dy="2.41">Apoe</tspan><tspan font-size="3.76" dy="-2.41">-/-</tspan></text>
<line x1="424.80" y1="334.90" x2="424.80" y2="347.65" stroke="#c8203c" stroke-width="1.0"/>
<line x1="424.80" y1="369.40" x2="424.80" y2="369.40" stroke="#c8203c" stroke-width="1.0"/>
<line x1="422.60" y1="334.90" x2="427.00" y2="334.90" stroke="#c8203c" stroke-width="1.0"/>
<line x1="422.60" y1="369.40" x2="427.00" y2="369.40" stroke="#c8203c" stroke-width="1.0"/>
<rect x="420.20" y="347.65" width="9.20" height="21.75" fill="none" stroke="#c8203c" stroke-width="1.0"/>
<line x1="420.20" y1="362.95" x2="429.40" y2="362.95" stroke="#c8203c" stroke-width="1.0"/>
<circle cx="424.80" cy="334.90" r="1.15" fill="#c4122f"/>
<circle cx="424.80" cy="340.90" r="1.15" fill="#c4122f"/>
<circle cx="424.80" cy="360.40" r="1.15" fill="#c4122f"/>
<circle cx="421.80" cy="362.95" r="1.15" fill="#c4122f"/>
<circle cx="427.80" cy="362.95" r="1.15" fill="#c4122f"/>
<circle cx="421.80" cy="366.40" r="1.15" fill="#c4122f"/>
<circle cx="424.80" cy="366.40" r="1.15" fill="#c4122f"/>
<circle cx="427.80" cy="366.40" r="1.15" fill="#c4122f"/>
<circle cx="421.80" cy="369.40" r="1.15" fill="#c4122f"/>
<circle cx="427.80" cy="369.40" r="1.15" fill="#c4122f"/>
<line x1="438.70" y1="318.85" x2="438.70" y2="324.85" stroke="#1f5b98" stroke-width="1.0"/>
<line x1="438.70" y1="355.45" x2="438.70" y2="361.90" stroke="#1f5b98" stroke-width="1.0"/>
<line x1="436.50" y1="318.85" x2="440.90" y2="318.85" stroke="#1f5b98" stroke-width="1.0"/>
<line x1="436.50" y1="361.90" x2="440.90" y2="361.90" stroke="#1f5b98" stroke-width="1.0"/>
<rect x="434.10" y="324.85" width="9.20" height="30.60" fill="none" stroke="#1f5b98" stroke-width="1.0"/>
<line x1="434.10" y1="344.95" x2="443.30" y2="344.95" stroke="#1f5b98" stroke-width="1.0"/>
<rect x="434.80" y="318.05" width="2.2" height="2.2" fill="#0d4a8c"/>
<rect x="440.40" y="318.05" width="2.2" height="2.2" fill="#0d4a8c"/>
<rect x="437.60" y="324.80" width="2.2" height="2.2" fill="#0d4a8c"/>
<rect x="437.60" y="334.85" width="2.2" height="2.2" fill="#0d4a8c"/>
<rect x="437.60" y="339.50" width="2.2" height="2.2" fill="#0d4a8c"/>
<rect x="434.80" y="347.90" width="2.2" height="2.2" fill="#0d4a8c"/>
<rect x="440.40" y="347.90" width="2.2" height="2.2" fill="#0d4a8c"/>
<rect x="434.80" y="354.35" width="2.2" height="2.2" fill="#0d4a8c"/>
<rect x="440.40" y="354.35" width="2.2" height="2.2" fill="#0d4a8c"/>
<rect x="437.60" y="360.80" width="2.2" height="2.2" fill="#0d4a8c"/>
<line x1="457.45" y1="349.90" x2="457.45" y2="355.90" stroke="#c8203c" stroke-width="1.0"/>
<line x1="457.45" y1="366.85" x2="457.45" y2="369.40" stroke="#c8203c" stroke-width="1.0"/>
<line x1="455.25" y1="349.90" x2="459.65" y2="349.90" stroke="#c8203c" stroke-width="1.0"/>
<line x1="455.25" y1="369.40" x2="459.65" y2="369.40" stroke="#c8203c" stroke-width="1.0"/>
<rect x="453.00" y="355.90" width="8.90" height="10.95" fill="none" stroke="#c8203c" stroke-width="1.0"/>
<line x1="453.00" y1="364.60" x2="461.90" y2="364.60" stroke="#c8203c" stroke-width="1.0"/>
<circle cx="457.45" cy="349.90" r="1.15" fill="#c4122f"/>
<circle cx="457.45" cy="361.45" r="1.15" fill="#c4122f"/>
<circle cx="454.65" cy="364.60" r="1.15" fill="#c4122f"/>
<circle cx="460.25" cy="364.60" r="1.15" fill="#c4122f"/>
<circle cx="457.45" cy="369.40" r="1.15" fill="#c4122f"/>
<line x1="471.00" y1="290.35" x2="471.00" y2="330.70" stroke="#1f5b98" stroke-width="1.0"/>
<line x1="471.00" y1="355.15" x2="471.00" y2="362.80" stroke="#1f5b98" stroke-width="1.0"/>
<line x1="468.80" y1="290.35" x2="473.20" y2="290.35" stroke="#1f5b98" stroke-width="1.0"/>
<line x1="468.80" y1="362.80" x2="473.20" y2="362.80" stroke="#1f5b98" stroke-width="1.0"/>
<rect x="466.60" y="330.70" width="8.80" height="24.45" fill="none" stroke="#1f5b98" stroke-width="1.0"/>
<line x1="466.60" y1="347.05" x2="475.40" y2="347.05" stroke="#1f5b98" stroke-width="1.0"/>
<rect x="469.90" y="289.25" width="2.2" height="2.2" fill="#0d4a8c"/>
<rect x="469.90" y="324.80" width="2.2" height="2.2" fill="#0d4a8c"/>
<rect x="469.90" y="333.80" width="2.2" height="2.2" fill="#0d4a8c"/>
<rect x="469.90" y="339.80" width="2.2" height="2.2" fill="#0d4a8c"/>
<rect x="467.10" y="345.80" width="2.2" height="2.2" fill="#0d4a8c"/>
<rect x="472.70" y="345.80" width="2.2" height="2.2" fill="#0d4a8c"/>
<rect x="469.90" y="348.80" width="2.2" height="2.2" fill="#0d4a8c"/>
<rect x="467.10" y="361.70" width="2.2" height="2.2" fill="#0d4a8c"/>
<rect x="472.70" y="361.70" width="2.2" height="2.2" fill="#0d4a8c"/>
<line x1="489.70" y1="349.90" x2="489.70" y2="365.65" stroke="#c8203c" stroke-width="1.0"/>
<line x1="489.70" y1="365.65" x2="489.70" y2="366.40" stroke="#c8203c" stroke-width="1.0"/>
<line x1="487.50" y1="349.90" x2="491.90" y2="349.90" stroke="#c8203c" stroke-width="1.0"/>
<line x1="487.50" y1="366.40" x2="491.90" y2="366.40" stroke="#c8203c" stroke-width="1.0"/>
<line x1="485.30" y1="365.65" x2="494.10" y2="365.65" stroke="#c8203c" stroke-width="1.0"/>
<circle cx="489.70" cy="349.90" r="1.15" fill="#c4122f"/>
<circle cx="486.70" cy="365.95" r="1.15" fill="#c4122f"/>
<circle cx="489.70" cy="365.65" r="1.15" fill="#c4122f"/>
<circle cx="492.70" cy="365.35" r="1.15" fill="#c4122f"/>
<line x1="504.05" y1="289.15" x2="504.05" y2="305.35" stroke="#1f5b98" stroke-width="1.0"/>
<line x1="504.05" y1="347.50" x2="504.05" y2="351.40" stroke="#1f5b98" stroke-width="1.0"/>
<line x1="501.85" y1="289.15" x2="506.25" y2="289.15" stroke="#1f5b98" stroke-width="1.0"/>
<line x1="501.85" y1="351.40" x2="506.25" y2="351.40" stroke="#1f5b98" stroke-width="1.0"/>
<rect x="499.40" y="305.35" width="9.30" height="42.15" fill="none" stroke="#1f5b98" stroke-width="1.0"/>
<line x1="499.40" y1="327.40" x2="508.70" y2="327.40" stroke="#1f5b98" stroke-width="1.0"/>
<rect x="502.95" y="288.05" width="2.2" height="2.2" fill="#0d4a8c"/>
<rect x="502.95" y="309.80" width="2.2" height="2.2" fill="#0d4a8c"/>
<rect x="502.95" y="318.80" width="2.2" height="2.2" fill="#0d4a8c"/>
<rect x="502.95" y="333.80" width="2.2" height="2.2" fill="#0d4a8c"/>
<rect x="502.95" y="345.80" width="2.2" height="2.2" fill="#0d4a8c"/>
<rect x="502.95" y="350.30" width="2.2" height="2.2" fill="#0d4a8c"/>
<text x="420.20" y="313.00" font-size="7.6" textLength="23.20" lengthAdjust="spacingAndGlyphs" fill="#333333">P&lt;0.05</text>
<line x1="421.10" y1="315.20" x2="437.40" y2="315.20" stroke="#444" stroke-width="0.9"/>
<text x="453.10" y="285.70" font-size="7.6" textLength="23.20" lengthAdjust="spacingAndGlyphs" fill="#333333">P&lt;0.05</text>
<line x1="454.20" y1="287.70" x2="470.00" y2="287.70" stroke="#444" stroke-width="0.9"/>
<text x="486.90" y="282.30" font-size="7.6" textLength="23.20" lengthAdjust="spacingAndGlyphs" fill="#333333">P&lt;0.05</text>
<line x1="488.00" y1="283.50" x2="503.10" y2="283.50" stroke="#444" stroke-width="0.9"/>
<text x="420.00" y="387.60" font-size="7.6" textLength="18.80" lengthAdjust="spacingAndGlyphs" fill="#333333">Day 1</text>
<text x="454.00" y="387.60" font-size="7.6" textLength="18.80" lengthAdjust="spacingAndGlyphs" fill="#333333">Day 3</text>
<text x="486.50" y="387.60" font-size="7.6" textLength="18.80" lengthAdjust="spacingAndGlyphs" fill="#333333">Day 7</text>
<line x1="20.00" y1="234.30" x2="199.50" y2="234.30" stroke="#333" stroke-width="0.9"/>
<line x1="258.90" y1="234.30" x2="486.50" y2="234.30" stroke="#333" stroke-width="0.9"/>
<path d="M18.6 234.3 L24.2 232.6 L24.2 236.0 Z" fill="#111"/>
<path d="M491.5 234.3 L485.9 232.6 L485.9 236.0 Z" fill="#111"/>
<text x="203.00" y="236.90" font-size="8.0" textLength="54.70" lengthAdjust="spacingAndGlyphs" fill="#333333">Filament model</text>
<line x1="16.00" y1="422.30" x2="195.20" y2="422.30" stroke="#333" stroke-width="0.9"/>
<line x1="254.00" y1="422.30" x2="482.50" y2="422.30" stroke="#333" stroke-width="0.9"/>
<path d="M14.3 422.3 L19.9 420.6 L19.9 424.0 Z" fill="#111"/>
<path d="M487.4 422.3 L481.8 420.6 L481.8 424.0 Z" fill="#111"/>
<text x="198.70" y="425.80" font-size="8.0" textLength="53.10" lengthAdjust="spacingAndGlyphs" fill="#333333">Embolic model</text>
<rect x="0" y="0" width="520" height="1.1" fill="#1a1a1a"/>
<rect x="0" y="0" width="1.1" height="432" fill="#1a1a1a"/>
<rect x="518.7" y="0" width="1.3" height="432" fill="#1a1a1a"/>
<rect x="0" y="430.4" width="520" height="1.6" fill="#1a1a1a"/>
</svg>
</body></html>
